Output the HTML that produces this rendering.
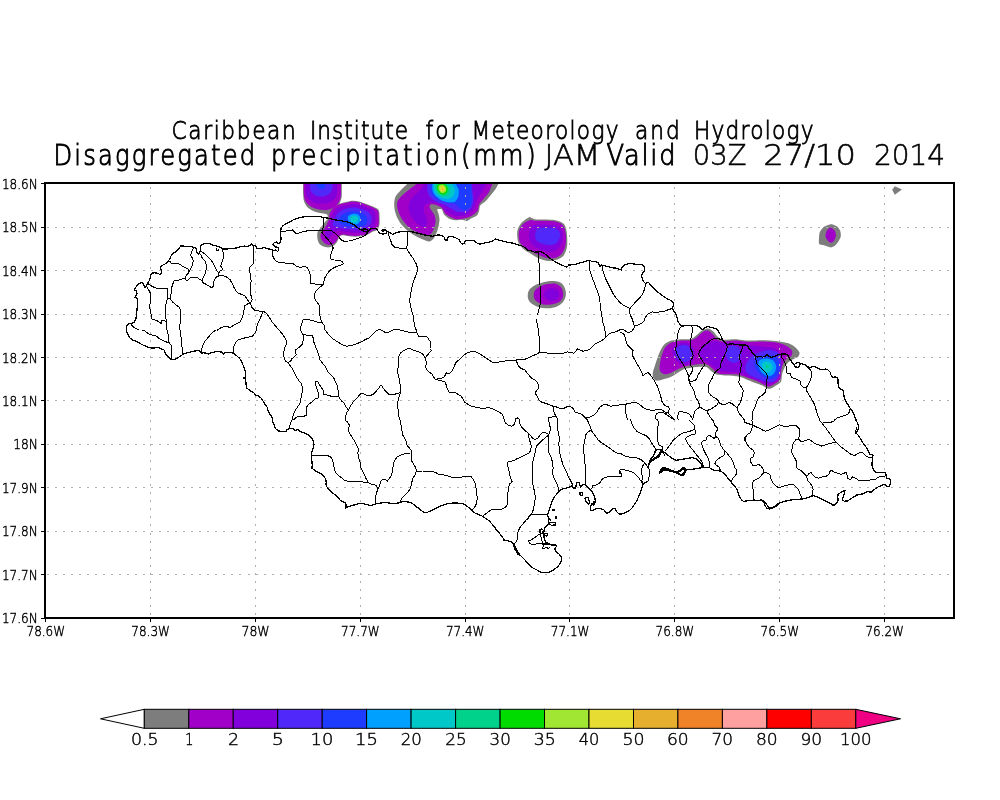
<!DOCTYPE html>
<html lang="en"><head><meta charset="utf-8"><title>Disaggregated precipitation JAM</title>
<style>html,body{margin:0;padding:0;background:#fff}body{width:1000px;height:800px;overflow:hidden}svg{display:block}text{font-family:"DejaVu Sans Light", "DejaVu Sans", "Liberation Sans", sans-serif;font-weight:200;fill:#000;stroke:#000;stroke-width:0.35px}.t1 text{font-size:25.5px;stroke-width:0.85px}.t2 text{font-size:29.2px;stroke-width:1px}.t2 text.u{stroke-width:0.55px}.ax text{font-size:14px;stroke-width:0.45px}.cb text{font-size:15px;stroke-width:0.4px}.map{fill:none;stroke:#000;stroke-width:1;stroke-linejoin:round;stroke-linecap:round}.coast{stroke-width:1.25}.grid{stroke:#b0b0b0;stroke-width:1;stroke-dasharray:2 6.04;fill:none}</style></head><body>
<svg width="1000" height="800" viewBox="0 0 1000 800">
<rect width="1000" height="800" fill="#fff"/>
<g id="shade" clip-path="url(#clipf)">
<path d="M303.2,150.0C296.8,153.3 303.2,165.2 303.2,170.0C303.2,174.8 303.2,174.8 303.2,179.0C303.2,183.2 302.9,191.0 303.2,195.0C303.4,199.0 303.8,200.8 304.7,203.0C305.6,205.2 307.0,206.8 308.7,208.3C310.4,209.8 312.8,211.0 315.0,211.8C317.2,212.6 320.0,212.9 322.0,213.3C324.0,213.8 325.8,213.7 327.0,214.5C328.2,215.3 327.3,218.2 329.0,218.0C330.7,217.8 335.3,215.2 337.0,213.0C338.7,210.8 338.2,207.5 339.0,205.0C339.8,202.5 341.0,200.5 341.5,198.0C342.0,195.5 341.8,193.2 341.8,190.0C341.9,186.8 341.8,182.3 341.8,179.0C341.8,175.7 341.8,174.8 341.8,170.0C341.8,165.2 348.2,153.3 341.8,150.0C335.4,146.7 309.6,146.7 303.2,150.0Z" fill="#7d7d7d"/>
<path d="M338.5,204.0C340.6,203.3 344.6,202.3 347.0,201.8C349.4,201.3 350.8,200.8 353.0,200.8C355.2,200.8 357.6,201.2 360.0,201.8C362.4,202.4 364.8,203.4 367.2,204.3C369.6,205.2 372.6,206.3 374.5,207.3C376.4,208.3 377.9,208.7 378.8,210.5C379.7,212.3 379.5,215.5 379.6,218.0C379.7,220.5 379.7,223.6 379.3,225.5C378.9,227.4 378.3,228.6 377.2,229.7C376.1,230.8 374.1,231.0 372.5,231.8C370.9,232.7 369.4,234.1 367.5,234.8C365.6,235.6 363.3,236.0 361.2,236.3C359.1,236.6 357.0,236.8 355.0,236.8C353.0,236.8 351.0,236.6 349.0,236.3C347.0,236.1 344.7,235.2 343.2,235.3C341.7,235.4 340.7,235.7 339.8,236.6C338.9,237.5 338.4,239.4 337.8,240.6C337.2,241.8 336.8,242.6 336.0,243.5C335.2,244.4 334.3,245.3 333.0,246.0C331.7,246.7 329.7,247.4 328.0,247.4C326.3,247.4 324.5,246.9 323.0,246.2C321.5,245.5 319.9,244.6 319.0,243.2C318.1,241.8 317.6,239.9 317.4,238.0C317.2,236.1 317.0,233.8 317.6,232.0C318.2,230.2 320.0,228.7 321.2,227.0C322.4,225.3 323.9,223.4 325.0,222.0C326.1,220.6 327.4,219.9 328.0,218.5C328.6,217.1 328.3,215.0 328.8,213.5C329.3,212.0 329.9,210.8 330.8,209.5C331.8,208.2 333.2,206.9 334.5,206.0C335.8,205.1 336.4,204.7 338.5,204.0Z" fill="#7d7d7d"/>
<path d="M303.8,150.0C297.6,153.3 303.8,165.2 303.8,170.0C303.8,174.8 303.8,175.0 303.8,179.0C303.8,183.0 303.5,190.3 303.8,194.0C304.1,197.7 304.5,199.0 305.5,201.0C306.5,203.0 308.1,204.7 310.0,206.0C311.9,207.3 314.5,208.3 317.0,209.0C319.5,209.7 322.7,210.0 325.0,210.0C327.3,210.0 329.0,209.8 331.0,209.0C333.0,208.2 335.4,206.8 337.0,205.0C338.6,203.2 339.8,200.5 340.5,198.0C341.2,195.5 340.9,193.2 341.0,190.0C341.1,186.8 341.0,182.3 341.0,179.0C341.0,175.7 341.0,174.8 341.0,170.0C341.0,165.2 347.2,153.3 341.0,150.0C334.8,146.7 310.0,146.7 303.8,150.0Z" fill="#a000c8"/>
<path d="M339.0,204.5C341.0,203.8 344.7,203.0 347.0,202.5C349.3,202.0 350.8,201.5 353.0,201.5C355.2,201.5 357.7,201.9 360.0,202.5C362.3,203.1 364.7,204.1 367.0,205.0C369.3,205.9 372.2,207.0 374.0,208.0C375.8,209.0 377.2,209.3 378.0,211.0C378.8,212.7 378.7,215.7 378.8,218.0C378.9,220.3 378.9,223.2 378.5,225.0C378.1,226.8 377.6,228.0 376.5,229.0C375.4,230.0 373.6,230.2 372.0,231.0C370.4,231.8 368.8,233.2 367.0,234.0C365.2,234.8 363.0,235.2 361.0,235.5C359.0,235.8 357.0,236.0 355.0,236.0C353.0,236.0 351.0,235.8 349.0,235.5C347.0,235.2 344.7,234.4 343.0,234.5C341.3,234.6 340.0,235.1 339.0,236.0C338.0,236.9 337.8,238.8 337.0,240.0C336.2,241.2 335.2,242.7 334.0,243.5C332.8,244.3 331.3,244.9 330.0,245.0C328.7,245.1 327.2,244.7 326.0,244.0C324.8,243.3 323.4,242.2 322.5,241.0C321.6,239.8 320.7,238.3 320.5,237.0C320.3,235.7 320.6,234.3 321.2,233.0C321.8,231.7 323.0,230.5 324.0,229.0C325.0,227.5 326.2,225.7 327.0,224.0C327.8,222.3 328.6,220.7 329.0,219.0C329.4,217.3 329.1,215.5 329.5,214.0C329.9,212.5 330.6,211.2 331.5,210.0C332.4,208.8 333.8,207.4 335.0,206.5C336.2,205.6 337.0,205.2 339.0,204.5Z" fill="#a000c8"/>
<path d="M305.5,150.0C300.2,153.3 305.5,165.2 305.5,170.0C305.5,174.8 305.4,175.2 305.5,179.0C305.6,182.8 305.5,189.8 306.0,193.0C306.5,196.2 307.2,196.9 308.5,198.5C309.8,200.1 311.9,201.7 314.0,202.5C316.1,203.3 318.5,203.5 321.0,203.5C323.5,203.5 326.8,203.2 329.0,202.5C331.2,201.8 333.2,200.6 334.5,199.0C335.8,197.4 336.5,196.3 337.0,193.0C337.5,189.7 337.4,182.8 337.5,179.0C337.6,175.2 337.5,174.8 337.5,170.0C337.5,165.2 342.8,153.3 337.5,150.0C332.2,146.7 310.8,146.7 305.5,150.0Z" fill="#8200dc"/>
<path d="M310.0,150.0C306.2,153.3 310.0,165.2 310.0,170.0C310.0,174.8 310.0,176.0 310.0,179.0C310.0,182.0 309.7,185.8 310.0,188.0C310.3,190.2 311.1,191.2 312.0,192.5C312.9,193.8 314.0,194.8 315.5,195.5C317.0,196.2 319.2,196.5 321.0,196.5C322.8,196.5 324.9,196.2 326.5,195.5C328.1,194.8 329.5,193.8 330.5,192.5C331.5,191.2 332.2,190.2 332.5,188.0C332.8,185.8 332.5,182.0 332.5,179.0C332.5,176.0 332.5,174.8 332.5,170.0C332.5,165.2 336.2,153.3 332.5,150.0C328.8,146.7 313.8,146.7 310.0,150.0Z" fill="#5028fa"/>
<path d="M316.5,150.0C315.1,153.3 316.5,165.2 316.5,170.0C316.5,174.8 316.5,176.5 316.5,179.0C316.5,181.5 316.3,183.5 316.5,185.0C316.7,186.5 317.2,187.1 317.8,187.8C318.4,188.5 319.2,188.8 320.0,189.0C320.8,189.2 321.8,189.2 322.5,189.0C323.2,188.8 324.1,188.5 324.5,187.8C324.9,187.1 325.1,186.5 325.2,185.0C325.3,183.5 325.2,181.5 325.2,179.0C325.2,176.5 325.2,174.8 325.2,170.0C325.2,165.2 326.6,153.3 325.2,150.0C323.8,146.7 317.9,146.7 316.5,150.0Z" fill="#1e3cff"/>
<path d="M340.0,207.0C341.8,206.3 344.7,205.5 347.0,205.0C349.3,204.5 351.7,204.0 354.0,204.0C356.3,204.0 358.7,204.3 361.0,205.0C363.3,205.7 365.8,207.0 368.0,208.0C370.2,209.0 372.8,209.5 374.0,211.0C375.2,212.5 375.3,214.8 375.5,217.0C375.7,219.2 375.6,222.2 375.0,224.0C374.4,225.8 373.5,226.8 372.0,228.0C370.5,229.2 368.2,230.2 366.0,231.0C363.8,231.8 361.5,232.2 359.0,232.5C356.5,232.8 353.5,232.7 351.0,232.5C348.5,232.3 346.2,231.8 344.0,231.5C341.8,231.2 339.7,230.4 338.0,230.5C336.3,230.6 335.2,231.1 334.0,232.0C332.8,232.9 332.0,234.9 331.0,236.0C330.0,237.1 329.0,238.3 328.0,238.5C327.0,238.7 325.5,237.9 325.0,237.0C324.5,236.1 324.5,234.5 325.0,233.0C325.5,231.5 327.2,229.7 328.0,228.0C328.8,226.3 329.4,224.8 330.0,223.0C330.6,221.2 330.8,218.8 331.5,217.0C332.2,215.2 333.2,213.3 334.0,212.0C334.8,210.7 335.5,209.8 336.5,209.0C337.5,208.2 338.2,207.7 340.0,207.0Z" fill="#8200dc"/>
<path d="M338.0,213.0C339.5,211.8 342.5,209.9 345.0,209.0C347.5,208.1 350.3,207.5 353.0,207.5C355.7,207.5 358.5,208.2 361.0,209.0C363.5,209.8 366.2,210.7 368.0,212.0C369.8,213.3 371.0,215.2 371.5,217.0C372.0,218.8 371.8,221.3 371.0,223.0C370.2,224.7 368.8,226.0 367.0,227.0C365.2,228.0 362.5,228.6 360.0,229.0C357.5,229.4 354.7,229.6 352.0,229.5C349.3,229.4 346.5,228.9 344.0,228.5C341.5,228.1 338.8,227.6 337.0,227.0C335.2,226.4 333.5,226.2 333.0,225.0C332.5,223.8 333.5,221.5 334.0,220.0C334.5,218.5 335.3,217.2 336.0,216.0C336.7,214.8 336.5,214.2 338.0,213.0Z" fill="#5028fa"/>
<path d="M342.0,215.0C343.6,214.0 346.7,212.6 349.0,212.0C351.3,211.4 353.7,211.2 356.0,211.5C358.3,211.8 361.2,212.4 363.0,213.5C364.8,214.6 366.4,216.4 367.0,218.0C367.6,219.6 367.2,221.7 366.5,223.0C365.8,224.3 364.8,225.3 363.0,226.0C361.2,226.7 358.3,226.9 356.0,227.0C353.7,227.1 351.2,226.8 349.0,226.5C346.8,226.2 344.7,225.8 343.0,225.0C341.3,224.2 339.6,223.2 339.0,222.0C338.4,220.8 339.0,219.2 339.5,218.0C340.0,216.8 340.4,216.0 342.0,215.0Z" fill="#1e3cff"/>
<path d="M348.0,216.5C348.7,215.6 350.5,214.4 352.0,214.0C353.5,213.6 355.7,213.5 357.0,214.0C358.3,214.5 359.5,215.8 360.0,217.0C360.5,218.2 360.4,219.8 360.0,221.0C359.6,222.2 358.7,223.4 357.5,224.0C356.3,224.6 354.3,224.8 353.0,224.5C351.7,224.2 350.3,223.3 349.5,222.5C348.7,221.7 348.2,220.5 348.0,219.5C347.8,218.5 347.3,217.4 348.0,216.5Z" fill="#00a0ff"/>
<path d="M350.2,217.8C350.5,216.8 352.1,216.0 353.2,215.7C354.2,215.4 355.7,215.6 356.5,216.1C357.3,216.6 358.1,217.7 358.2,218.6C358.3,219.5 358.0,220.8 357.4,221.5C356.8,222.2 355.5,222.8 354.5,222.8C353.5,222.8 352.2,222.3 351.5,221.5C350.8,220.7 349.9,218.8 350.2,217.8Z" fill="#00c8c8"/>
<path d="M409.2,145.0C397.1,147.9 409.3,162.3 409.2,167.0C409.2,171.7 409.2,177.9 408.9,180.2C408.6,182.5 408.1,182.7 407.1,184.1C406.0,185.4 402.5,188.4 401.0,190.1C399.5,191.8 396.4,194.9 395.5,196.7C394.6,198.5 394.3,201.4 394.2,203.3C394.1,205.2 394.5,208.9 394.9,211.0C395.4,213.1 396.7,216.8 397.7,218.7C398.7,220.6 400.8,223.7 402.1,225.3C403.4,226.9 406.0,229.5 407.6,230.8C409.2,232.1 412.3,234.1 414.2,235.2C416.1,236.3 419.9,238.2 421.9,239.1C423.9,239.9 427.4,241.7 429.1,241.6C430.7,241.4 432.9,239.4 434.0,237.9C435.1,236.5 436.6,232.6 437.3,230.8C438.0,229.0 438.7,225.8 438.9,224.2C439.2,222.6 439.6,220.2 439.5,218.7C439.4,217.2 438.7,214.4 438.4,213.2C438.1,212.0 436.9,209.9 437.3,209.3C437.7,208.8 440.8,208.7 441.7,209.3C442.6,210.0 443.0,213.1 443.9,214.3C444.8,215.5 446.8,217.3 448.3,218.2C449.8,219.0 453.1,220.1 454.9,220.3C456.7,220.6 459.9,219.7 461.5,219.8C463.1,219.9 465.7,221.1 467.0,220.9C468.3,220.7 470.1,218.9 471.4,218.2C472.7,217.4 475.9,216.4 476.9,215.4C477.9,214.4 478.7,212.3 479.1,211.0C479.5,209.7 479.3,206.8 480.2,205.5C481.1,204.2 484.2,202.6 485.7,201.1C487.2,199.6 489.9,196.1 491.2,194.5C492.5,192.9 494.6,190.4 495.6,189.0C496.6,187.6 497.8,185.2 498.4,184.1C498.9,182.9 499.7,182.5 500.0,180.2C500.3,177.9 500.5,171.7 500.6,167.0C500.6,162.3 512.7,147.9 500.6,145.0C488.4,142.1 421.4,142.1 409.2,145.0Z" fill="#7d7d7d"/>
<path d="M419.1,145.0C409.1,147.9 419.2,162.3 419.1,167.0C419.1,171.7 419.2,177.9 418.8,180.2C418.5,182.5 417.7,182.7 416.4,184.1C415.1,185.4 410.6,188.6 408.7,190.1C406.8,191.6 403.6,194.1 402.1,195.6C400.6,197.1 398.4,199.6 397.7,201.1C397.0,202.6 396.9,204.8 397.1,206.6C397.4,208.4 398.5,212.4 399.4,214.3C400.2,216.2 402.0,219.3 403.2,220.9C404.4,222.5 406.7,225.1 408.1,226.4C409.6,227.7 412.4,229.8 414.2,230.8C416.0,231.8 420.0,233.5 421.9,234.1C423.8,234.7 427.1,235.5 428.5,235.2C429.9,234.9 431.5,233.1 432.4,231.9C433.2,230.7 434.1,227.9 434.6,226.4C435.0,224.9 435.6,222.4 435.6,220.9C435.6,219.4 435.1,216.7 434.6,215.4C434.0,214.1 432.5,212.1 431.8,211.0C431.1,209.9 429.7,208.0 429.6,207.2C429.5,206.3 429.8,204.7 430.7,204.4C431.6,204.1 434.7,204.5 436.2,204.9C437.7,205.4 440.5,206.6 441.7,207.7C442.9,208.8 444.0,212.0 445.0,213.2C446.0,214.4 447.9,215.7 449.4,216.5C450.9,217.3 454.2,219.0 456.0,219.2C457.8,219.5 460.8,219.0 462.6,218.7C464.4,218.4 467.6,217.7 469.2,217.1C470.8,216.4 473.5,214.7 474.7,213.8C475.9,212.8 477.4,211.1 478.0,209.9C478.6,208.7 478.4,205.9 479.1,204.4C479.8,202.9 482.2,200.5 483.5,198.9C484.8,197.3 487.8,194.3 489.0,192.3C490.2,190.3 491.6,185.7 492.3,184.1C493.0,182.4 493.7,182.5 493.9,180.2C494.2,177.9 494.4,171.7 494.5,167.0C494.6,162.3 504.5,147.9 494.5,145.0C484.5,142.1 429.2,142.1 419.1,145.0Z" fill="#a000c8"/>
<path d="M425.2,145.0C416.9,147.9 425.2,162.3 425.2,167.0C425.2,171.7 425.2,177.9 425.0,180.2C424.8,182.5 424.0,183.0 423.6,184.1C423.1,185.1 422.9,186.7 421.9,187.9C420.9,189.1 417.8,191.9 416.4,193.4C415.0,194.9 412.5,197.4 411.4,198.9C410.4,200.4 409.0,202.9 408.7,204.4C408.4,205.9 408.6,208.8 408.9,210.4C409.3,212.1 410.6,215.0 411.4,216.5C412.3,218.0 414.1,220.8 415.3,222.0C416.5,223.2 419.0,225.2 420.2,225.8C421.5,226.5 423.8,227.2 424.6,226.9C425.5,226.7 426.5,225.1 426.9,224.2C427.2,223.3 427.4,221.5 427.2,220.3C427.0,219.2 425.9,216.8 425.4,215.4C424.9,214.0 423.6,211.4 423.6,209.9C423.5,208.4 424.0,205.4 425.2,204.4C426.4,203.4 431.1,202.8 432.9,202.8C434.7,202.7 437.1,203.2 438.4,203.8C439.7,204.5 441.6,206.6 442.8,207.7C444.0,208.8 445.7,211.1 447.2,212.1C448.7,213.1 451.9,214.9 453.8,215.4C455.7,215.9 459.6,216.1 461.5,215.9C463.4,215.8 466.5,215.3 468.1,214.3C469.7,213.3 472.4,210.7 473.6,208.8C474.8,206.9 475.7,202.3 476.9,200.0C478.1,197.7 481.2,193.3 482.4,191.2C483.6,189.1 485.1,185.5 485.7,184.1C486.3,182.6 486.6,182.5 486.8,180.2C487.0,177.9 487.3,171.7 487.4,167.0C487.4,162.3 495.6,147.9 487.4,145.0C479.1,142.1 433.5,142.1 425.2,145.0Z" fill="#8200dc"/>
<path d="M427.4,145.0C421.5,147.9 427.4,162.7 427.4,167.0C427.4,171.3 427.4,173.7 427.4,176.9C427.4,180.1 427.0,188.4 427.4,191.2C427.8,194.0 429.4,196.3 430.7,197.8C432.0,199.3 435.4,201.2 437.3,202.2C439.2,203.2 443.1,204.1 445.0,204.9C446.9,205.8 449.8,207.8 451.6,208.8C453.4,209.8 456.3,211.7 458.2,212.1C460.1,212.5 464.1,212.7 465.9,212.1C467.7,211.5 470.4,209.3 471.4,207.7C472.4,206.1 473.5,202.1 473.6,200.0C473.7,197.9 472.7,195.4 472.5,192.3C472.3,189.2 472.0,180.3 471.9,176.9C471.9,173.5 471.9,171.3 471.9,167.0C471.9,162.7 477.9,147.9 471.9,145.0C466.0,142.1 433.3,142.1 427.4,145.0Z" fill="#5028fa"/>
<path d="M430.1,145.0C424.7,147.9 430.1,162.7 430.1,167.0C430.1,171.3 430.1,173.7 430.1,176.9C430.2,180.1 430.2,188.6 430.7,191.2C431.2,193.8 432.8,195.5 434.0,196.7C435.2,197.9 437.7,199.7 439.5,200.6C441.3,201.4 445.1,202.3 447.2,202.8C449.3,203.2 453.3,203.2 454.9,203.8C456.5,204.5 458.0,206.9 459.3,207.7C460.6,208.5 463.3,210.0 464.8,209.9C466.3,209.8 469.3,208.1 470.3,206.6C471.3,205.1 471.8,201.1 471.9,198.9C472.1,196.7 471.5,193.0 471.4,190.1C471.3,187.2 470.9,180.0 470.9,176.9C470.8,173.8 470.9,171.3 470.9,167.0C470.9,162.7 476.3,147.9 470.9,145.0C465.4,142.1 435.6,142.1 430.1,145.0Z" fill="#1e3cff"/>
<path d="M432.4,145.0C429.3,147.9 432.4,162.7 432.4,167.0C432.4,171.3 432.4,173.8 432.4,176.9C432.4,180.0 432.0,187.6 432.4,190.1C432.7,192.6 434.0,194.3 435.1,195.6C436.2,196.9 438.8,199.1 440.6,200.0C442.4,200.9 446.4,202.0 448.3,202.2C450.2,202.4 453.6,202.4 454.9,201.7C456.2,200.9 457.7,198.2 458.2,196.7C458.7,195.2 459.0,191.8 458.8,190.1C458.5,188.4 456.5,185.8 456.0,184.1C455.5,182.3 455.0,179.2 454.9,176.9C454.8,174.6 454.9,171.3 454.9,167.0C454.9,162.7 457.9,147.9 454.9,145.0C451.9,142.1 435.4,142.1 432.4,145.0Z" fill="#00a0ff"/>
<path d="M434.0,145.0C431.8,147.9 434.0,162.7 434.0,167.0C434.0,171.3 434.0,174.0 434.0,176.9C434.0,179.8 433.6,186.7 434.0,189.0C434.4,191.3 435.7,193.3 436.8,194.5C437.8,195.7 440.3,197.2 441.7,197.8C443.1,198.4 445.7,199.0 447.2,198.9C448.7,198.8 451.7,197.7 452.7,196.7C453.7,195.7 454.8,192.7 454.9,191.2C455.0,189.7 453.7,186.7 453.2,185.7C452.8,184.7 452.0,185.2 451.6,184.1C451.2,182.9 450.6,179.2 450.5,176.9C450.4,174.6 450.5,171.3 450.5,167.0C450.5,162.7 452.7,147.9 450.5,145.0C448.3,142.1 436.2,142.1 434.0,145.0Z" fill="#00c8c8"/>
<path d="M435.6,184.6C434.6,185.6 435.2,187.4 435.6,189.0C436.1,190.6 437.2,192.8 438.4,193.9C439.6,195.1 441.3,195.9 442.8,196.2C444.3,196.4 446.0,196.2 447.2,195.6C448.4,195.0 449.5,193.6 449.9,192.3C450.4,191.0 450.4,189.2 449.9,187.9C449.5,186.6 448.6,185.4 447.2,184.6C445.8,183.8 443.6,182.9 441.7,182.9C439.8,182.9 436.7,183.6 435.6,184.6Z" fill="#00d28c"/>
<path d="M437.3,185.2C436.7,186.0 436.9,187.7 437.3,189.0C437.7,190.3 438.6,191.9 439.5,192.8C440.4,193.8 441.7,194.4 442.8,194.5C443.9,194.6 445.3,194.1 446.1,193.4C446.9,192.7 447.6,191.2 447.8,190.1C447.9,189.0 447.7,187.7 447.2,186.8C446.7,185.9 446.0,185.1 445.0,184.6C444.0,184.1 442.4,183.6 441.1,183.7C439.9,183.8 437.9,184.3 437.3,185.2Z" fill="#00dc00"/>
<path d="M438.4,186.2C438.1,187.1 438.5,189.0 438.9,190.1C439.4,191.2 440.3,192.4 441.1,192.8C442.0,193.3 443.1,193.2 443.9,192.8C444.7,192.5 445.8,191.6 446.1,190.7C446.4,189.7 446.3,188.3 445.9,187.3C445.4,186.4 444.2,185.2 443.4,184.8C442.5,184.4 441.4,184.6 440.6,184.8C439.8,185.1 438.7,185.4 438.4,186.2Z" fill="#a0e632"/>
<path d="M440.1,187.7C439.8,188.3 440.1,189.5 440.4,190.1C440.7,190.7 441.3,191.4 441.9,191.5C442.5,191.7 443.4,191.4 443.9,191.0C444.4,190.6 444.8,189.7 444.8,189.0C444.8,188.3 444.4,187.3 443.9,186.8C443.4,186.3 442.6,186.0 441.9,186.1C441.3,186.3 440.3,187.0 440.1,187.7Z" fill="#e6dc32"/>
<path d="M441.7,188.7C441.6,189.0 441.8,189.7 442.0,189.9C442.3,190.1 442.9,190.0 443.1,189.8C443.4,189.6 443.4,189.0 443.4,188.7C443.3,188.4 442.9,188.0 442.6,188.0C442.3,188.0 441.8,188.4 441.7,188.7Z" fill="#e6af2d"/>
<path d="M529.2,217.2C527.8,217.9 524.4,219.9 522.5,221.8C520.6,223.6 518.9,226.1 518.0,228.5C517.1,230.9 517.1,233.5 517.2,236.0C517.4,238.5 517.6,241.2 518.8,243.5C519.9,245.8 522.1,247.9 524.0,249.5C525.9,251.1 527.8,251.9 530.0,253.2C532.2,254.6 534.8,256.5 537.5,257.8C540.2,259.0 543.5,260.4 546.5,260.8C549.5,261.1 552.8,260.8 555.5,260.0C558.2,259.2 561.1,258.2 563.0,256.2C564.9,254.2 566.0,251.1 566.8,248.0C567.5,244.9 567.3,240.8 567.2,237.5C567.1,234.2 566.7,230.9 566.0,228.5C565.3,226.1 564.8,224.6 563.0,223.2C561.2,221.9 558.5,220.9 555.5,220.2C552.5,219.6 548.2,219.6 545.0,219.5C541.8,219.4 538.2,219.8 536.0,219.5C533.8,219.2 532.6,218.4 531.5,218.0C530.4,217.6 530.8,216.6 529.2,217.2Z" fill="#7d7d7d"/>
<path d="M530.0,220.2C528.2,220.7 525.8,221.8 524.0,223.2C522.2,224.8 520.4,227.1 519.5,229.2C518.6,231.4 518.6,233.8 518.8,236.0C518.9,238.2 519.1,240.8 520.2,242.8C521.4,244.8 523.5,246.5 525.5,248.0C527.5,249.5 529.9,250.5 532.2,251.8C534.6,253.0 537.1,254.4 539.8,255.5C542.4,256.6 545.4,257.8 548.0,258.2C550.6,258.6 553.2,258.4 555.5,257.8C557.8,257.1 559.9,255.9 561.5,254.0C563.1,252.1 564.5,249.2 565.2,246.5C566.0,243.8 566.1,240.4 566.0,237.5C565.9,234.6 565.5,231.5 564.8,229.2C564.0,227.0 563.3,225.3 561.5,224.0C559.7,222.7 557.0,221.9 554.0,221.3C551.0,220.8 546.8,220.8 543.5,220.7C540.2,220.6 536.8,220.8 534.5,220.7C532.2,220.6 531.8,219.8 530.0,220.2Z" fill="#a000c8"/>
<path d="M532.2,226.2C531.0,227.4 529.8,229.4 529.2,231.5C528.8,233.6 528.6,236.8 529.2,239.0C529.9,241.2 531.1,243.2 533.0,245.0C534.9,246.8 537.8,248.4 540.5,249.5C543.2,250.6 546.8,251.8 549.5,251.8C552.2,251.8 555.0,250.9 557.0,249.5C559.0,248.1 560.5,245.9 561.5,243.5C562.5,241.1 562.8,237.8 562.7,235.2C562.6,232.8 562.0,230.1 560.8,228.5C559.5,226.9 558.1,226.1 555.5,225.5C552.9,224.9 548.1,224.9 545.0,224.8C541.9,224.6 538.9,224.5 536.8,224.8C534.6,225.0 533.5,225.1 532.2,226.2Z" fill="#8200dc"/>
<path d="M537.5,229.2C535.9,230.2 535.5,232.0 535.2,233.8C535.0,235.5 535.0,238.1 536.0,239.8C537.0,241.4 539.0,242.6 541.2,243.5C543.5,244.4 547.0,245.0 549.5,245.0C552.0,245.0 554.5,244.8 556.2,243.5C558.0,242.2 559.2,239.5 559.7,237.5C560.2,235.5 560.1,233.0 559.2,231.5C558.4,230.0 557.1,229.1 554.8,228.5C552.4,227.9 547.9,227.6 545.0,227.8C542.1,227.9 539.1,228.2 537.5,229.2Z" fill="#5028fa"/>
<path d="M527.8,294.5C527.9,293.0 528.1,291.5 529.2,290.0C530.4,288.5 532.1,286.8 534.5,285.5C536.9,284.2 540.2,282.9 543.5,282.2C546.8,281.4 551.0,280.8 554.0,281.0C557.0,281.2 559.6,281.9 561.5,283.2C563.4,284.6 564.5,287.1 565.2,289.2C566.0,291.4 566.1,293.9 565.7,296.0C565.3,298.1 564.5,300.2 563.0,302.0C561.5,303.8 559.5,305.4 557.0,306.5C554.5,307.6 551.0,308.2 548.0,308.3C545.0,308.4 541.8,308.1 539.0,307.2C536.2,306.4 533.3,304.9 531.5,303.5C529.7,302.1 528.8,300.5 528.2,299.0C527.6,297.5 527.6,296.0 527.8,294.5Z" fill="#7d7d7d"/>
<path d="M533.8,294.5C533.9,293.1 534.1,291.4 535.2,290.0C536.4,288.6 538.4,287.2 540.5,286.2C542.6,285.2 545.5,284.4 548.0,284.0C550.5,283.6 553.4,283.2 555.5,283.7C557.6,284.2 559.5,285.6 560.8,287.0C562.0,288.4 562.7,290.5 563.0,292.2C563.3,294.0 563.3,295.9 562.7,297.5C562.1,299.1 561.0,300.9 559.2,302.0C557.5,303.1 555.0,303.8 552.5,304.2C550.0,304.7 546.8,305.1 544.2,304.7C541.8,304.3 539.2,303.1 537.5,302.0C535.8,300.9 534.8,299.5 534.2,298.2C533.6,297.0 533.6,295.9 533.8,294.5Z" fill="#a000c8"/>
<path d="M544.2,293.0C544.8,291.6 546.4,290.0 548.0,289.2C549.6,288.5 552.2,288.1 554.0,288.5C555.8,288.9 557.7,290.1 558.5,291.5C559.3,292.9 559.4,295.3 558.8,296.8C558.2,298.2 556.4,299.6 554.8,300.2C553.1,300.8 550.4,300.9 548.8,300.5C547.1,300.1 545.8,298.8 545.0,297.5C544.2,296.2 543.8,294.4 544.2,293.0Z" fill="#8200dc"/>
<path d="M831.8,224.2C832.7,224.4 836.4,225.9 837.2,226.6C838.0,227.3 839.8,229.8 840.2,230.8C840.6,231.8 841.0,235.1 840.8,236.2C840.6,237.3 839.0,240.6 838.4,241.6C837.8,242.6 835.6,245.2 834.8,245.8C834.0,246.4 831.7,247.4 830.6,247.4C829.5,247.3 825.1,245.5 824.0,245.2C822.9,244.9 819.7,244.7 819.2,244.0C818.7,243.3 818.9,239.2 819.0,238.0C819.0,236.8 819.4,233.1 819.8,232.0C820.2,230.9 822.6,227.9 823.4,227.2C824.2,226.5 827.4,225.3 828.2,225.0C829.0,224.7 830.9,224.0 831.8,224.2Z" fill="#7d7d7d"/>
<path d="M831.2,227.8C831.8,228.0 834.3,230.0 834.8,230.8C835.3,231.6 836.1,234.6 836.0,235.6C835.9,236.6 834.7,239.7 834.2,240.4C833.7,241.1 831.9,242.8 831.2,242.8C830.5,242.8 828.2,241.1 827.6,240.4C827.0,239.7 825.6,237.1 825.4,236.2C825.3,235.3 826.1,232.2 826.4,231.4C826.7,230.6 828.3,228.8 828.8,228.4C829.3,228.0 830.6,227.6 831.2,227.8Z" fill="#a000c8"/>
<path d="M894.8,186.2 L902.0,189.6 L894.8,194.8 L892.2,189.8Z" fill="#7d7d7d"/>
<path d="M652.8,372.9C653.0,371.1 654.4,367.1 655.3,364.4C656.2,361.7 658.4,355.1 659.5,352.5C660.7,349.9 662.2,346.4 663.8,344.9C665.4,343.3 669.2,341.3 671.5,340.6C673.7,339.9 678.2,339.5 680.8,339.2C683.4,339.0 689.0,339.4 691.0,338.9C693.0,338.4 694.6,336.6 696.1,335.5C697.6,334.4 700.5,331.4 702.0,330.4C703.6,329.4 706.5,328.2 708.0,328.4C709.5,328.5 711.9,330.2 713.1,331.2C714.3,332.3 716.0,335.2 717.4,336.4C718.7,337.5 720.9,339.4 723.3,339.8C725.7,340.1 731.8,339.1 735.2,339.2C738.6,339.4 745.2,340.5 748.8,340.6C752.4,340.7 758.8,340.2 762.4,340.3C766.0,340.3 772.6,340.6 776.0,340.9C779.4,341.3 785.3,342.3 787.9,343.1C790.5,344.0 794.0,346.2 795.5,347.4C797.1,348.6 799.1,351.3 799.5,352.5C799.8,353.7 799.0,355.8 798.1,356.8C797.2,357.7 794.4,358.5 793.0,359.3C791.6,360.1 789.0,361.6 787.9,362.7C786.8,363.8 785.3,366.2 784.5,367.8C783.7,369.4 782.4,372.8 782.0,374.6C781.5,376.4 781.9,379.9 781.1,381.4C780.3,382.9 777.6,384.6 776.0,385.6C774.4,386.7 771.0,389.1 769.2,389.1C767.4,389.1 764.2,386.4 762.4,385.6C760.6,384.9 757.9,384.0 755.6,383.1C753.3,382.2 747.9,379.8 745.4,378.9C742.9,377.9 739.6,376.8 736.9,376.3C734.2,375.8 727.7,375.7 725.0,375.4C722.3,375.2 718.3,375.2 716.5,374.6C714.7,374.0 712.8,372.2 711.4,371.2C710.0,370.2 708.3,367.5 706.3,366.9C704.3,366.4 698.8,366.7 696.1,366.9C693.4,367.2 688.4,367.9 685.9,368.6C683.4,369.4 679.4,371.8 677.4,372.9C675.4,374.0 672.6,376.2 670.6,377.1C668.6,378.1 664.0,379.2 662.1,379.7C660.2,380.2 657.3,380.8 656.1,380.6C655.0,380.3 653.7,379.0 653.3,378.0C652.8,377.0 652.5,374.7 652.8,372.9Z" fill="#7d7d7d"/>
<path d="M659.5,367.8C659.6,365.9 660.6,360.2 661.2,357.6C661.9,355.0 663.4,350.2 664.6,348.2C665.9,346.3 668.4,344.2 670.6,343.1C672.8,342.1 678.1,341.0 680.8,340.6C683.5,340.2 688.8,340.7 691.0,340.3C693.2,339.8 695.4,338.3 697.0,337.2C698.5,336.1 701.4,333.0 702.9,332.1C704.4,331.2 706.8,330.2 708.0,330.4C709.2,330.6 711.1,332.7 712.2,333.8C713.4,334.9 715.0,337.9 716.5,338.9C718.0,339.9 720.8,341.2 723.3,341.4C725.8,341.7 731.8,340.5 735.2,340.6C738.6,340.7 745.2,341.8 748.8,342.0C752.4,342.1 758.8,341.5 762.4,341.6C766.0,341.7 772.8,342.1 776.0,342.6C779.2,343.2 784.0,344.6 786.2,345.7C788.4,346.8 791.5,349.4 792.1,350.8C792.8,352.2 792.1,354.8 791.3,355.9C790.5,357.0 787.3,358.2 786.2,359.3C785.1,360.4 783.5,362.8 782.8,364.4C782.1,366.0 781.4,369.3 781.1,371.2C780.8,373.1 780.9,377.3 780.2,378.9C779.6,380.4 777.5,382.1 776.0,383.1C774.5,384.1 771.0,386.4 769.2,386.5C767.4,386.6 764.2,384.7 762.4,383.9C760.6,383.2 757.9,381.5 755.6,380.6C753.3,379.6 747.9,378.0 745.4,377.1C742.9,376.3 739.6,374.6 736.9,374.3C734.2,373.9 727.6,374.4 725.0,374.3C722.4,374.1 719.1,373.6 717.4,372.9C715.6,372.2 713.6,369.8 712.2,368.6C710.9,367.5 709.3,365.0 707.1,364.4C705.0,363.8 698.9,364.2 696.1,364.4C693.3,364.6 688.4,365.4 685.9,366.1C683.4,366.8 679.4,368.6 677.4,369.5C675.4,370.4 672.3,372.3 670.6,372.9C668.9,373.5 666.0,374.4 664.6,374.3C663.3,374.1 661.4,372.9 660.7,372.1C660.1,371.2 659.5,369.7 659.5,367.8Z" fill="#a000c8"/>
<path d="M674.0,346.6C675.4,345.1 678.2,343.6 680.8,343.1C683.3,342.7 687.0,342.7 689.3,344.0C691.6,345.3 693.7,348.2 694.4,350.8C695.1,353.4 694.5,357.0 693.5,359.3C692.6,361.6 690.7,363.7 688.5,364.4C686.2,365.1 682.4,364.7 680.0,363.6C677.5,362.4 675.3,359.6 674.0,357.6C672.7,355.6 672.3,353.5 672.3,351.6C672.3,349.8 672.6,348.0 674.0,346.6Z" fill="#8200dc"/>
<path d="M699.5,352.5C699.9,350.2 702.3,347.5 704.6,345.7C706.9,343.9 709.7,341.9 713.1,341.4C716.5,341.0 721.3,342.9 725.0,343.1C728.7,343.4 731.2,342.9 735.2,343.1C739.2,343.4 744.3,344.3 748.8,344.9C753.3,345.4 757.9,345.8 762.4,346.6C766.9,347.3 772.9,347.3 776.0,349.1C779.1,350.9 780.4,354.2 781.1,357.6C781.8,361.0 780.7,366.1 780.2,369.5C779.8,372.9 779.5,375.9 778.5,378.0C777.6,380.1 776.1,381.3 774.3,382.2C772.5,383.2 770.0,384.2 767.5,383.9C765.0,383.7 762.1,381.7 759.0,380.6C755.9,379.4 751.9,378.4 748.8,377.1C745.7,375.9 743.1,373.8 740.3,372.9C737.5,372.0 734.9,372.3 731.8,372.1C728.7,371.8 724.4,371.9 721.6,371.2C718.8,370.5 717.1,369.2 714.8,367.8C712.5,366.4 710.1,364.1 708.0,362.7C705.9,361.3 703.5,361.0 702.0,359.3C700.6,357.6 699.1,354.8 699.5,352.5Z" fill="#8200dc"/>
<path d="M676.5,348.2C677.7,346.6 680.5,345.1 682.5,344.9C684.5,344.6 686.9,345.3 688.5,346.6C690.0,347.8 691.6,350.4 691.9,352.5C692.1,354.6 691.3,357.7 690.1,359.3C689.0,360.9 686.9,361.7 685.0,361.9C683.2,362.0 680.7,361.3 679.1,360.1C677.5,359.0 676.1,357.0 675.7,355.1C675.3,353.1 675.4,349.9 676.5,348.2Z" fill="#5028fa"/>
<path d="M727.5,348.2C728.7,347.0 730.8,345.8 732.6,345.7C734.5,345.6 737.2,346.0 738.6,347.4C740.0,348.8 741.1,351.9 741.1,354.2C741.1,356.5 740.0,359.6 738.6,361.0C737.2,362.4 734.5,363.0 732.6,362.7C730.8,362.4 728.7,360.9 727.5,359.3C726.4,357.7 725.9,355.2 725.9,353.4C725.9,351.5 726.4,349.5 727.5,348.2Z" fill="#5028fa"/>
<path d="M745.4,366.1C746.0,363.6 748.2,359.9 750.5,357.6C752.8,355.3 755.9,353.8 759.0,352.5C762.1,351.2 766.1,349.9 769.2,349.9C772.3,349.9 775.7,350.7 777.7,352.5C779.7,354.3 780.7,357.9 781.1,361.0C781.5,364.1 781.0,368.2 780.2,371.2C779.5,374.2 778.4,377.0 776.9,378.9C775.3,380.7 773.3,382.0 770.9,382.2C768.5,382.5 765.2,381.4 762.4,380.6C759.6,379.7 756.4,378.4 753.9,377.1C751.4,375.9 748.5,374.7 747.1,372.9C745.7,371.1 744.8,368.7 745.4,366.1Z" fill="#5028fa"/>
<path d="M755.6,359.3C756.9,357.6 759.9,356.6 762.4,355.9C764.9,355.2 768.3,354.5 770.9,355.1C773.5,355.6 776.3,357.2 777.7,359.3C779.1,361.4 779.5,365.1 779.4,367.8C779.3,370.5 778.3,373.6 776.9,375.4C775.4,377.3 773.0,378.6 770.9,378.9C768.8,379.1 766.2,378.3 764.1,377.1C762.0,376.0 759.7,373.9 758.1,372.1C756.6,370.2 755.2,368.2 754.8,366.1C754.3,364.0 754.3,361.0 755.6,359.3Z" fill="#1e3cff"/>
<path d="M759.0,361.0C760.1,359.4 763.5,358.6 765.8,358.4C768.1,358.3 770.9,358.9 772.6,360.1C774.3,361.4 775.7,364.0 776.0,366.1C776.3,368.2 775.4,371.2 774.3,372.9C773.2,374.6 771.0,376.2 769.2,376.3C767.4,376.4 765.0,375.2 763.2,373.8C761.5,372.3 759.7,369.9 759.0,367.8C758.3,365.7 757.9,362.6 759.0,361.0Z" fill="#00a0ff"/>
<path d="M762.4,363.4C763.0,362.1 765.3,361.5 766.8,361.5C768.3,361.5 770.3,362.3 771.2,363.4C772.2,364.4 772.7,366.5 772.6,367.8C772.5,369.1 771.4,370.6 770.4,371.4C769.4,372.1 767.9,372.8 766.6,372.4C765.4,372.0 763.8,370.7 763.1,369.2C762.4,367.7 761.8,364.7 762.4,363.4Z" fill="#00c8c8"/>
<path d="M765.8,365.8C766.0,365.3 767.0,364.9 767.5,364.9C768.0,365.0 768.6,365.6 768.9,366.1C769.1,366.6 769.1,367.4 768.9,367.8C768.6,368.2 768.0,368.7 767.5,368.6C767.0,368.6 766.4,368.1 766.1,367.6C765.9,367.1 765.6,366.2 765.8,365.8Z" fill="#00d28c"/>
</g>
<defs><clipPath id="clipf"><rect x="45.0" y="183.0" width="909.0" height="435.0"/></clipPath></defs>
<g class="grid" shape-rendering="crispEdges">
<line x1="150.5" y1="183.0" x2="150.5" y2="618.0" stroke-dashoffset="-3.8"/>
<line x1="255.5" y1="183.0" x2="255.5" y2="618.0" stroke-dashoffset="-3.8"/>
<line x1="360.5" y1="183.0" x2="360.5" y2="618.0" stroke-dashoffset="-3.8"/>
<line x1="465.5" y1="183.0" x2="465.5" y2="618.0" stroke-dashoffset="-3.8"/>
<line x1="569.5" y1="183.0" x2="569.5" y2="618.0" stroke-dashoffset="-3.8"/>
<line x1="674.5" y1="183.0" x2="674.5" y2="618.0" stroke-dashoffset="-3.8"/>
<line x1="779.5" y1="183.0" x2="779.5" y2="618.0" stroke-dashoffset="-3.8"/>
<line x1="884.5" y1="183.0" x2="884.5" y2="618.0" stroke-dashoffset="-3.8"/>
<line x1="45.0" y1="227.5" x2="954.0" y2="227.5" stroke-dashoffset="-1.5"/>
<line x1="45.0" y1="270.5" x2="954.0" y2="270.5" stroke-dashoffset="-1.5"/>
<line x1="45.0" y1="314.5" x2="954.0" y2="314.5" stroke-dashoffset="-1.5"/>
<line x1="45.0" y1="357.5" x2="954.0" y2="357.5" stroke-dashoffset="-1.5"/>
<line x1="45.0" y1="400.5" x2="954.0" y2="400.5" stroke-dashoffset="-1.5"/>
<line x1="45.0" y1="444.5" x2="954.0" y2="444.5" stroke-dashoffset="-1.5"/>
<line x1="45.0" y1="487.5" x2="954.0" y2="487.5" stroke-dashoffset="-1.5"/>
<line x1="45.0" y1="531.5" x2="954.0" y2="531.5" stroke-dashoffset="-1.5"/>
<line x1="45.0" y1="574.5" x2="954.0" y2="574.5" stroke-dashoffset="-1.5"/>
</g>
<g class="map" clip-path="url(#clipf)" shape-rendering="crispEdges">
<polyline points="216.5,248.5 216.5,251.0 218.0,250.8 218.0,248.5"/>
<polyline points="222.8,249.0 223.1,252.5 223.6,256.2 222.8,260.0 221.5,263.1 220.8,266.2 222.0,267.5 222.2,269.8 219.8,271.0 219.0,273.1 218.8,276.0"/>
<polyline points="200.8,250.6 203.1,252.8 206.2,255.0 209.0,257.8 211.5,260.6 213.2,263.5 214.8,266.9 216.5,270.0 218.5,273.1 218.8,276.0"/>
<polyline points="200.0,253.8 201.2,255.6 202.5,258.5 205.0,261.2 206.2,265.0 206.1,270.0 204.8,274.4 203.0,277.8 202.1,281.0 203.5,283.1 206.5,284.5 209.5,286.5 212.0,287.8 213.2,286.2 213.6,282.5 214.5,279.4 216.5,276.9 218.8,276.0 222.8,275.6 226.5,277.0 230.0,279.5 232.0,283.2 233.8,287.0 235.8,290.8 238.2,293.2 242.0,294.5 245.0,296.0"/>
<polyline points="193.8,247.2 192.5,250.0 191.2,252.5 190.8,255.6 192.5,258.1 193.2,261.2 192.5,265.0 191.2,267.8 189.5,270.6 188.2,273.1 186.2,275.6 185.0,278.1 186.2,280.2 188.1,280.0 190.0,277.8 193.8,277.2 197.5,277.8 200.0,279.5 202.1,281.0"/>
<polyline points="185.0,278.1 182.5,278.8 178.8,280.0 175.0,280.0 173.8,281.2 172.5,285.0 171.2,288.8 171.2,292.5 170.8,296.2 170.0,298.1 171.2,300.0 173.1,302.5 176.2,305.0 179.4,307.5 180.6,311.2 180.6,317.5 180.0,323.8 179.4,330.0"/>
<polyline points="147.8,282.8 149.0,284.4 151.2,285.8 154.4,287.5 157.5,288.8 162.5,288.5 167.0,288.5 167.6,291.2 167.6,295.0 167.6,298.8 170.0,298.1"/>
<polyline points="167.6,298.8 166.2,302.5 165.6,307.5 165.6,315.0 166.2,321.2 167.0,330.0"/>
<polyline points="169.8,261.2 170.6,262.8 172.5,263.8 175.6,264.0 178.1,263.5 180.0,264.5 182.5,266.2 185.0,267.5 188.1,268.8 189.0,270.6"/>
<polyline points="146.5,285.6 147.5,288.1 149.4,291.2 150.6,293.8 150.6,298.8 150.0,303.8 149.4,307.5 150.6,311.2 151.2,315.0 151.0,318.8 153.8,319.4 156.9,320.6 160.0,322.5 161.2,323.8 161.9,321.9 161.2,320.0 163.8,320.6 166.2,321.2"/>
<polyline points="130.6,323.8 132.5,326.2 136.2,328.8 138.8,330.0"/>
<polyline points="245.0,306.2 243.8,311.2 242.5,317.5 240.0,321.9 235.0,324.4 230.0,327.5 226.2,326.2 221.2,327.5 217.5,330.0"/>
<polyline points="273.1,250.6 272.5,253.1 272.8,256.2 274.4,259.4 276.9,261.9 281.2,262.5 286.2,263.1 290.0,263.5 293.1,263.8 295.0,265.0 297.5,266.9 301.2,267.2 305.0,266.5 307.5,267.5 308.8,270.6 310.0,273.8 310.6,278.8 310.6,283.5 315.0,284.0 320.0,284.4 323.5,284.4"/>
<polyline points="323.5,284.4 324.0,281.2 325.0,277.5 326.9,274.4 328.8,271.9 331.2,269.4 334.4,267.5 337.5,266.2 341.2,265.0 343.8,263.8 341.9,261.2 338.8,260.2 334.4,260.0 331.2,259.4 330.6,256.9 331.2,253.1 332.5,250.0 333.1,247.5"/>
<polyline points="323.5,284.4 321.2,286.2 318.1,288.8 315.6,291.2 314.4,294.4 314.4,298.1 316.2,301.2 318.8,304.4 319.8,307.5 319.4,311.9 320.0,316.2 321.2,320.6 322.5,323.1 324.4,325.6 325.0,330.0"/>
<polyline points="322.5,323.1 318.8,322.5 315.0,321.2 310.0,320.0 305.0,319.4 303.1,320.0 301.9,323.8 300.6,327.5 300.0,330.0"/>
<polyline points="251.9,244.0 253.1,246.2 253.8,250.0 253.8,255.0 253.5,260.0 253.1,263.8 251.2,265.6 249.8,267.5 249.8,271.2 250.6,276.2 251.2,281.2 250.2,286.2 250.0,291.2 251.2,296.2 252.2,300.0 250.6,302.5 249.8,303.1 250.6,304.4 251.9,307.5 254.4,310.0 258.8,311.0 263.1,311.0"/>
<polyline points="263.1,311.0 261.2,316.2 258.8,321.2 256.9,326.2 256.0,330.0"/>
<polyline points="263.1,311.0 266.2,313.1 269.4,317.5 272.5,322.5 276.2,326.9 278.8,330.0"/>
<polyline points="245.0,296.0 246.9,298.8 248.8,301.9 249.8,303.1"/>
<polyline points="245.0,305.6 247.5,304.0 249.8,303.1"/>
<polyline points="280.4,231.9 282.5,231.5 286.2,231.0 290.0,230.6 292.2,229.8 293.8,231.2 296.2,234.0 298.8,233.1 303.8,231.5 308.8,230.6 313.8,230.2 318.8,230.6 322.5,230.6 326.2,230.2 331.2,230.6 335.0,233.1 338.1,236.2 341.2,239.8 343.8,241.2 348.8,241.0 353.8,239.8 358.8,238.1 363.8,236.2 366.9,233.8 368.1,231.9"/>
<polyline points="323.5,217.8 323.5,220.0 324.0,223.8 323.1,227.5 322.2,230.0 321.9,232.5 323.8,235.0 326.2,237.5 328.8,240.6 331.2,243.8 332.5,246.2 333.1,248.8"/>
<polyline points="388.5,232.8 389.0,236.2 390.6,240.0 391.9,244.4 395.0,247.5 400.0,248.1 406.5,248.1"/>
<polyline points="407.5,231.5 407.8,237.5 407.5,243.8 406.5,248.1"/>
<polyline points="406.5,248.1 408.1,251.2 410.6,255.0 413.8,259.4 416.2,263.8 417.5,268.1 416.9,272.5 415.0,277.5 413.1,282.5 411.9,287.5 410.6,293.8 409.8,300.0"/>
<polyline points="409.8,300.0 410.2,305.0 411.5,310.0 413.1,315.0 413.8,320.0 414.4,325.0 416.2,330.0"/>
<polyline points="538.8,251.9 538.8,256.2 539.0,262.5 539.4,270.0 539.8,277.5 540.0,285.0 540.2,292.5 540.6,300.0 540.0,305.0 538.8,310.0 537.5,315.0"/>
<polyline points="589.8,260.6 589.4,265.0 589.8,270.0 591.2,275.0 593.1,280.0 595.0,285.0 596.9,290.0 598.8,295.0 599.8,301.2"/>
<polyline points="600.0,303.0 600.6,307.5 601.5,315.0 602.6,320.0"/>
<polyline points="602.2,265.6 602.5,268.8 603.8,273.8 605.6,278.8 608.1,283.8 610.6,288.8 613.1,293.8 616.2,298.1 619.4,301.9 622.8,305.0 626.9,306.9 629.8,308.5"/>
<polyline points="645.0,283.8 645.0,286.9 644.0,290.6 642.2,294.4 640.0,297.5 636.9,300.6 634.0,303.8 631.9,306.2 629.8,308.8"/>
<polyline points="629.8,308.8 629.4,311.9 630.6,315.6 632.5,319.4 632.7,320.0"/>
<polyline points="643.9,320.0 645.0,318.1 646.9,315.0 649.4,313.1 652.5,311.9 655.0,312.5 658.1,312.2 661.2,311.5 665.0,311.0 668.1,309.8 671.2,308.8 672.2,308.1"/>
<polyline points="142.2,330.0 144.4,330.6 146.9,332.5 149.4,334.4 153.8,335.6 156.9,336.2 159.4,338.8 163.1,340.6 166.9,342.2 169.4,343.1 171.0,345.0 171.5,348.8 171.2,353.8 171.0,359.4"/>
<polyline points="167.8,330.0 167.8,330.0 168.1,336.2 168.5,341.2 169.4,343.1"/>
<polyline points="180.4,330.0 180.6,332.5 181.2,338.8 181.9,345.0 182.2,350.0 182.5,354.4"/>
<polyline points="201.0,352.2 201.9,348.8 203.1,345.0 205.0,341.2 208.1,337.5 211.2,333.8 215.0,330.6 215.9,330.0"/>
<polyline points="233.1,352.8 233.1,350.0 233.8,346.2 235.6,342.5 238.1,340.0 241.2,338.8 245.0,338.5"/>
<polyline points="243.8,377.2 244.5,377.2 244.5,378.2 243.8,378.2 243.8,377.2"/>
<polyline points="245.0,337.5 248.8,337.2 252.5,336.0 255.0,333.1 256.6,330.0"/>
<polyline points="279.1,330.0 280.6,331.9 283.1,335.0 285.0,338.1 286.5,341.2 286.2,345.0 284.8,347.5 284.0,351.2 283.1,355.6 284.4,358.1 285.6,361.2 288.1,362.8"/>
<polyline points="288.1,362.8 290.6,361.2 291.9,358.8 294.4,356.9 296.2,355.0 295.6,351.9 295.6,350.0 298.1,348.1 300.6,346.2 302.5,343.8 303.1,340.0 303.5,336.2 302.8,334.4 301.2,331.9 300.6,330.0"/>
<polyline points="302.8,334.4 306.2,335.0 310.0,335.6 312.5,336.0 313.5,338.8 314.0,342.5 315.6,346.9 317.5,351.2 318.8,355.6 320.0,360.0 322.5,363.1 325.0,366.2 326.9,369.4 328.1,372.5 331.2,375.0 333.8,378.1 335.6,381.9 337.2,385.6 338.1,390.0 338.5,396.2"/>
<polyline points="288.1,362.8 290.6,366.2 293.1,370.0 295.0,373.8 296.9,377.5 298.8,380.6 301.2,383.1 302.2,386.2 302.5,391.2 301.5,395.0 300.6,400.0 299.8,403.8 298.1,406.2 296.2,408.8 294.4,411.9 293.1,415.6 292.2,420.0"/>
<polyline points="325.2,330.0 326.9,332.5 330.0,336.2 333.8,339.4 337.5,341.9 341.9,344.4 346.2,346.2 351.2,345.6 356.2,344.0 361.2,341.9 365.6,339.4 370.0,337.5"/>
<polyline points="315.6,382.5 316.2,381.2 317.8,381.5 319.4,384.4 321.2,387.5 323.1,390.0 323.8,395.0 326.2,394.8 330.0,395.6 331.9,396.9 334.4,396.2 338.5,396.2 340.0,398.8 341.9,401.2 344.4,403.1 345.6,406.2 347.5,409.0 348.8,409.4"/>
<polyline points="315.6,382.5 316.0,386.2 317.2,390.0 318.5,393.8 318.1,398.1 315.0,399.0 313.1,401.2 310.0,403.5 307.2,405.6 306.5,408.8 306.9,412.5 306.2,415.6 303.8,416.2 300.0,416.2 296.9,416.9 294.4,418.8 293.8,420.0"/>
<polyline points="348.8,409.4 351.2,405.0 353.8,401.2 356.9,398.1 359.4,395.0 361.2,393.5 363.8,394.0 366.9,395.6 370.0,396.0"/>
<polyline points="348.8,409.4 346.9,412.5 345.6,416.2 345.2,420.0"/>
<polyline points="370.0,336.9 373.1,333.8 376.2,331.0 378.8,329.4 381.2,330.2 385.0,332.2 388.8,332.2 392.5,330.2 396.2,329.4 400.0,330.0 403.8,331.0 407.5,331.9 411.9,332.5 416.9,332.5"/>
<polyline points="416.2,330.2 416.5,331.2 417.2,333.8 418.8,336.2 421.9,336.9 425.0,336.2 427.2,336.9 428.8,339.4 430.6,341.9 430.2,345.6 430.0,348.8 431.5,350.6 429.4,352.8 427.5,355.0 425.6,357.5"/>
<polyline points="425.0,357.8 423.1,354.4 420.0,352.2 416.2,351.0 412.5,349.8 409.4,348.5 406.9,349.0 403.8,350.6 400.6,352.8 399.0,355.6 398.5,360.0 398.1,366.2 397.8,372.5 398.8,377.5 399.8,381.2 400.2,386.2 400.2,392.5 399.8,395.0 398.5,398.1 397.8,401.9 397.8,407.5 398.5,413.8 399.4,420.0"/>
<polyline points="425.0,357.8 426.0,361.2 426.2,364.4 425.6,367.5 426.9,370.0 429.4,372.2 431.9,374.0 433.5,376.9 435.0,379.0 438.1,380.0 441.9,381.0 445.0,381.9 446.2,385.0 446.9,388.1 448.8,391.9 452.5,392.5 455.6,392.5 458.1,394.4 461.2,396.2 463.1,399.4 464.4,402.2 467.5,404.0 471.2,406.0 475.6,407.2 480.0,408.1 485.0,408.1 488.8,407.5 491.9,408.5 495.0,410.0"/>
<polyline points="437.5,378.5 441.9,378.1 444.4,376.9 445.6,374.4 446.0,372.8 448.1,373.8 450.6,372.8 452.5,370.0 454.0,366.9 455.6,363.1 458.1,360.6 461.2,358.1 463.1,355.6 466.2,353.5 470.0,351.9 473.1,351.2 476.9,352.2 480.6,354.4 484.4,356.9 488.1,359.4 491.9,361.9 495.0,362.5"/>
<polyline points="370.0,395.6 373.1,394.4 376.2,391.2 378.8,388.1 380.2,385.6 381.9,385.6 383.1,388.1 385.6,391.2 388.8,394.4 392.5,394.8 396.2,393.8 400.0,392.8"/>
<polyline points="495.0,362.5 500.0,361.9 505.0,361.0 510.6,360.2 516.2,360.0 521.2,359.8 525.6,359.0 529.4,357.5 533.1,355.6 536.9,354.0 538.8,353.1"/>
<polyline points="536.5,320.0 537.2,323.8 538.1,328.8 538.8,333.8 539.4,338.8 539.5,343.8 539.4,348.8 538.8,353.1"/>
<polyline points="538.8,353.1 542.5,352.5 546.2,352.8 550.0,353.5 554.4,353.1 558.8,353.5 563.1,353.5 566.9,351.9 570.0,352.2 573.8,353.1 575.6,351.2 577.5,349.0 580.0,350.0 583.1,351.2 586.9,350.6 590.0,349.0 592.5,346.2 595.0,344.0 598.8,342.2 602.5,340.0 605.6,337.5 608.1,334.8 611.2,332.8 614.4,332.2 617.5,331.0 620.0,329.8"/>
<polyline points="602.5,320.0 602.8,322.5 604.0,326.2 605.0,330.6 605.6,335.0 605.6,337.5"/>
<polyline points="516.2,360.0 517.2,363.1 518.8,366.5 521.2,368.5 525.0,370.0 527.2,373.1 529.8,376.2 531.9,378.5 535.0,380.2 537.5,382.5 538.5,385.6 538.1,388.8 536.0,391.5 535.6,393.8 537.5,396.9 538.8,400.0 541.9,402.2 546.2,403.5 550.0,405.0 553.8,406.5"/>
<polyline points="553.8,406.5 557.5,407.2 561.2,408.8 564.4,408.1 567.5,406.5 570.0,406.2 573.1,408.5 575.0,411.9 578.1,413.1 581.9,414.4 584.4,416.9 586.2,418.8 587.5,420.0"/>
<polyline points="553.8,406.5 553.1,410.0 554.4,413.1 555.6,415.6 556.9,417.5 557.5,420.0"/>
<polyline points="556.9,416.9 552.5,416.9 548.8,417.5 548.5,420.0"/>
<polyline points="586.2,418.1 590.0,416.9 593.8,415.0 596.2,413.1 598.1,410.0 600.0,406.9 603.1,405.0 606.9,404.8 610.6,406.2 615.0,405.6 620.0,404.8"/>
<polyline points="495.0,410.2 498.8,411.9 501.9,413.8 503.5,416.9 504.4,420.0"/>
<polyline points="515.0,420.0 515.8,418.5 517.2,417.9 518.8,418.8 519.4,420.0"/>
<polyline points="620.0,329.4 623.8,329.8 626.9,331.9 629.4,332.5 632.5,330.6 634.4,326.9 633.8,323.8 632.5,320.0"/>
<polyline points="634.4,326.0 638.1,325.0 641.9,323.1 645.0,320.0"/>
<polyline points="620.0,331.9 622.5,333.1 624.4,335.0 625.6,338.8 626.2,342.5 628.1,345.6 630.6,348.1 633.1,350.6 632.5,353.8 633.1,356.9 635.0,360.0 636.9,363.8 638.8,366.9 640.6,370.0 641.9,373.1 643.1,375.6 645.6,373.8 648.1,372.5 650.0,374.4 651.9,376.9 653.8,380.0 655.6,383.1 657.5,386.2 658.8,390.0 660.0,393.8 661.0,397.5 661.9,401.2 663.8,404.4 666.2,406.2 668.8,406.9 669.4,409.4 668.1,412.5 670.0,415.0 672.5,417.5 675.0,420.0"/>
<polyline points="681.9,326.2 680.0,328.1 678.5,331.2 677.5,335.0 676.9,340.0 676.2,345.0 675.6,350.0 676.9,353.8 678.8,357.5 681.2,361.2 683.1,364.4 685.0,368.1 686.9,371.9 688.5,375.6 689.0,378.8 689.4,381.9"/>
<polyline points="691.9,325.6 692.2,330.0 691.9,335.0 690.6,340.0 690.0,345.0 691.0,349.4 692.5,352.5 693.1,355.6 691.9,358.8 690.0,361.9 690.6,365.0 692.5,368.1 692.2,371.2 690.6,374.4 689.0,376.9 688.5,379.4 689.4,381.9"/>
<polyline points="689.4,381.9 691.9,381.2 695.0,380.6 696.9,378.8 698.1,375.0 700.0,371.9 701.9,368.8 703.8,366.2 704.8,364.4 703.5,362.5 701.9,360.0 700.0,356.9 698.5,353.8 700.0,350.6 701.9,347.5 704.4,345.0 707.5,343.1 710.0,340.6 713.1,338.8 718.8,338.8 722.8,340.0"/>
<polyline points="689.4,381.9 690.6,385.0 692.5,388.1 694.0,391.2 695.0,395.0 696.2,398.1 698.1,401.2 699.4,404.4 700.0,406.9"/>
<polyline points="700.0,406.9 697.5,408.8 695.0,411.2 694.0,414.4 693.1,417.5 691.9,420.0"/>
<polyline points="700.0,406.9 702.5,408.8 705.0,410.0 708.1,410.2"/>
<polyline points="726.9,344.4 727.2,347.5 726.2,351.2 725.0,354.4 723.5,357.5 721.9,360.6 720.6,364.4 720.0,368.1 717.5,370.0 715.0,372.5 713.1,375.6 711.9,378.8 710.0,381.9 708.5,385.0 708.1,388.8 708.8,392.5 710.6,395.0 713.1,396.9 716.2,398.5 718.1,400.6 719.4,403.1 722.5,404.4 726.2,404.0 729.4,402.5 732.5,404.0 735.0,406.2 736.9,408.1"/>
<polyline points="741.9,345.0 742.2,348.8 740.6,352.5 739.4,356.2 740.0,360.0 741.2,363.8 741.0,367.5 740.2,371.2 739.8,375.0 739.4,378.8 738.8,382.5 740.0,385.0 741.9,387.5 743.1,390.6 742.8,395.0 741.5,398.8 740.6,401.9 738.8,405.0 736.9,408.1"/>
<polyline points="736.9,408.1 738.1,411.2 740.0,414.4 742.5,417.5 744.4,420.0"/>
<polyline points="620.0,404.8 623.1,404.4 626.2,404.0 630.0,403.1 633.8,402.5 637.5,403.1 640.0,404.8 642.5,406.9 645.0,408.8 648.1,409.8 651.9,410.2 655.6,410.0 658.8,409.0 661.2,409.4 663.8,411.2 666.2,413.1 668.1,412.5"/>
<polyline points="626.2,404.0 625.6,407.5 625.6,412.5 626.5,416.2 627.5,420.0"/>
<polyline points="656.2,420.0 655.6,416.9 656.2,413.8 658.8,412.5 661.9,412.2 664.4,413.1 666.9,415.0 670.0,416.9 672.5,418.8 673.8,420.0"/>
<polyline points="678.1,420.0 677.8,416.2 678.5,412.5 680.0,411.0 682.5,411.9 685.6,412.8 688.1,413.1 690.0,415.0 691.9,417.5"/>
<polyline points="708.1,410.2 707.5,412.5 708.8,415.0 710.6,417.5 712.5,420.0"/>
<polyline points="708.1,410.2 711.2,408.8 714.4,406.9 716.9,405.0 718.1,402.5 718.8,400.6"/>
<polyline points="755.6,356.2 756.0,360.0 756.2,363.1 758.8,365.6 761.2,368.1 763.8,370.6 766.2,373.1 767.5,375.6 766.9,379.4 766.5,383.8 766.2,388.1 765.0,392.5 762.5,395.0 760.0,396.5 757.5,399.4 756.2,403.1 754.8,407.5 753.1,410.6 752.5,415.0 752.2,420.0"/>
<polyline points="781.2,354.4 781.9,357.5 783.8,360.6 785.6,363.8 786.5,368.1 786.9,373.1 790.6,374.0 791.5,377.5 794.4,378.5 797.5,379.8 800.0,381.2 800.6,384.4 802.5,386.9 806.2,387.5"/>
<polyline points="806.9,366.5 809.4,368.8 811.2,371.2 811.9,374.4 811.0,378.1 809.8,381.9 808.1,385.0 806.2,387.5 806.9,391.2 808.8,394.4 810.6,397.5 812.5,400.6 814.4,404.4 815.6,408.1 816.9,412.5 818.1,416.2 820.0,420.0"/>
<polyline points="850.0,408.8 849.4,411.9 847.5,414.4 844.4,415.6 840.6,416.9 836.9,418.1 834.4,420.0"/>
<polyline points="289.4,428.8 289.8,425.6 290.6,422.5 292.2,420.0"/>
<polyline points="311.2,455.6 316.2,455.6 322.5,455.6 327.5,455.6 330.6,456.9 332.5,460.0 333.5,464.4 334.4,469.4 336.0,473.1 338.8,475.6 341.9,478.1 345.0,480.6 348.8,481.5 353.8,481.9 360.0,481.9 365.0,482.1 368.1,482.1"/>
<polyline points="345.0,420.0 347.5,421.9 349.4,425.0 348.8,428.8 348.8,431.9 350.6,435.0 353.1,438.8 355.0,441.9 356.9,445.6 358.5,449.4 357.8,453.1 358.5,457.5 360.0,461.9 360.6,466.9 362.5,470.6 364.4,475.0 366.2,478.8 368.1,482.1 370.0,483.8"/>
<polyline points="400.2,420.0 401.0,425.0 401.9,430.0 402.8,435.0 404.8,438.8 406.5,441.9 407.2,445.6 409.4,448.1 411.2,450.6 411.9,453.8 411.5,457.5 411.9,461.2 413.8,464.4 415.6,467.5 416.5,471.2"/>
<polyline points="416.5,471.2 415.0,475.0 413.1,478.1 411.9,481.9 411.2,485.6 410.0,489.4 407.5,492.5 405.0,495.0 402.5,497.5 401.0,500.0 400.0,502.5"/>
<polyline points="416.5,471.2 422.5,471.0 428.8,471.0 433.1,471.5 436.2,472.8 438.8,474.4 443.8,475.0 448.8,476.2 453.8,477.8 457.5,477.8 462.5,476.9 467.5,476.2 471.0,476.5 473.1,479.4 474.8,482.5 476.0,487.5 476.5,492.5 477.2,497.5 476.9,501.9 475.6,505.6 473.8,508.1 471.9,510.0"/>
<polyline points="410.0,453.5 407.5,453.5 404.4,453.8 400.6,455.2 396.9,457.2 394.8,460.0 393.5,463.8 392.8,468.1 392.2,472.5 391.0,476.2 388.8,479.0 387.5,481.0 385.0,479.4 382.5,479.8 380.6,481.2 379.8,484.4 379.0,487.5 378.1,488.5"/>
<polyline points="370.0,483.8 373.1,484.4 376.2,485.6 378.1,488.5 376.9,491.9 375.6,496.2 375.2,500.0 375.6,503.1"/>
<polyline points="483.1,516.0 486.2,513.5 489.4,511.0 491.9,509.4 495.0,509.0"/>
<polyline points="503.8,420.0 505.6,423.1 508.8,425.6 511.9,426.2 514.4,424.4 515.2,421.2 515.0,420.0"/>
<polyline points="519.4,420.0 520.0,423.8 521.9,427.5 525.0,430.6 528.1,433.1 530.6,435.6 532.5,438.1 535.0,439.4 537.5,438.5 539.4,436.2 541.0,433.8 542.5,432.5 545.0,432.5 547.5,433.8 548.8,435.0"/>
<polyline points="528.1,433.1 528.5,436.2 529.4,440.0 530.6,443.1 531.2,446.2 530.6,450.6 528.8,453.1 525.0,455.0 521.2,456.9 517.5,458.5 514.4,460.2 511.2,461.2 508.1,461.5 507.2,463.8 508.1,467.5 509.0,471.2 510.0,475.6 511.0,479.4 512.2,481.9 509.8,483.8 508.5,486.9 508.1,491.2 507.5,495.6 507.5,500.0 507.2,505.0 505.0,507.5 501.2,509.4 497.5,509.8 495.0,509.8"/>
<polyline points="548.5,420.0 549.4,423.1 550.2,427.5 550.0,431.2 548.8,435.0"/>
<polyline points="548.8,435.0 548.1,438.8 548.5,443.8 548.1,448.8 548.8,452.5 550.6,456.2 551.9,460.0 552.8,463.8 553.1,468.1 552.8,472.5 553.1,476.2 555.0,480.0 556.9,483.8 558.1,487.5 558.8,491.9"/>
<polyline points="548.8,435.0 545.6,437.5 542.5,440.0 539.4,443.1 536.9,445.6 535.6,449.4 534.8,453.8 533.5,458.8 532.5,463.8 532.2,470.0 532.5,476.2 532.5,482.5 533.5,487.5 534.8,492.5 535.2,497.5 534.8,502.5 533.8,507.5 532.5,512.5 531.2,514.4"/>
<polyline points="557.5,420.0 557.5,425.0 557.8,430.0 558.8,435.0 559.4,438.8 558.8,443.8 559.4,448.8 560.0,454.4 561.2,458.8 562.5,463.1 563.8,466.9 565.6,470.0 567.2,473.8 568.8,477.5 570.6,480.6 572.2,483.8 572.8,486.2"/>
<polyline points="587.5,420.0 588.8,423.8 590.6,427.5 591.2,430.0 588.1,431.9 586.0,434.4 585.0,438.8 584.0,443.8 583.5,448.8 584.0,453.8 584.8,458.8 585.0,463.8 585.2,470.0 585.2,476.2 585.2,482.5 585.0,484.8"/>
<polyline points="591.0,430.0 593.1,433.1 595.6,436.2 598.1,440.0 601.2,442.5 605.0,445.0 608.8,447.5 612.5,450.2 615.6,452.5 618.1,453.5 620.0,453.8"/>
<polyline points="593.8,501.0 594.8,501.2 594.8,503.5 593.8,503.2 593.8,501.0"/>
<polyline points="552.8,509.4 554.4,509.0 554.6,510.2 553.0,510.5 552.8,509.4"/>
<polyline points="555.6,516.2 556.9,516.2 556.9,518.8 555.6,518.8 555.6,516.2"/>
<polyline points="591.9,488.5 592.5,485.6 596.2,485.0 599.4,483.5 601.2,480.6 602.8,478.5 605.6,477.2 610.0,476.5 615.0,476.2 620.0,476.0"/>
<polyline points="619.2,470.6 620.0,470.6 620.0,473.1 619.2,473.1 619.2,470.6"/>
<polyline points="630.6,420.0 631.9,423.8 633.8,427.5 636.9,431.2 641.2,433.8 646.2,435.6 649.4,438.8 651.2,442.5 653.8,446.2 655.6,449.4 654.4,452.5 653.1,456.2 651.2,459.4 649.4,462.5 648.1,465.6"/>
<polyline points="657.5,420.0 658.8,423.1 657.5,427.5 657.2,432.5 657.5,437.5 658.1,442.5 659.4,445.6 661.9,446.2 663.1,448.1 661.9,450.6 660.6,454.4 658.8,456.9 655.6,458.8 652.5,460.6 650.0,463.1 648.5,466.0"/>
<polyline points="620.0,453.1 623.8,455.6 627.5,456.9 632.5,457.2 637.5,458.1 641.2,459.8 644.4,462.5 646.9,465.6 648.1,467.5 649.4,470.0 649.8,473.8 649.0,477.5 648.1,481.2 645.6,482.5 643.1,483.8 641.9,481.2 642.2,477.5 641.9,473.8 641.5,470.0 642.5,466.2 644.4,463.8"/>
<polyline points="620.0,469.4 623.8,469.8 627.5,470.6 631.9,471.9 635.0,473.8 637.5,476.2 639.8,479.4 641.5,481.9 643.1,483.8"/>
<polyline points="620.0,473.5 621.2,473.8 621.5,476.0 620.0,476.5"/>
<polyline points="662.5,451.9 663.8,453.5 664.4,455.2"/>
<polyline points="665.6,450.6 667.5,448.1 670.0,445.0 672.5,441.2 675.6,438.1 679.4,435.0 683.1,432.8 687.5,431.9 691.9,430.6 694.4,429.4 695.0,426.2 693.1,423.8 690.6,421.9 688.8,420.0"/>
<polyline points="694.4,429.4 696.0,431.9 695.6,433.8 691.2,435.0 687.5,436.5 685.6,438.8 686.9,441.9 688.8,445.0 691.2,448.1 693.8,451.2 696.2,454.4 698.8,457.5 701.2,460.6 702.8,463.8 703.5,467.2"/>
<polyline points="701.2,442.5 702.5,446.2 703.8,450.0 705.6,453.8 707.5,456.9 709.0,460.6 709.4,464.4 709.0,467.2"/>
<polyline points="701.2,442.5 703.8,440.6 706.2,440.0 706.9,436.9 709.0,434.8 711.9,436.9 714.4,438.8 715.6,436.2 715.0,433.1 716.9,430.6 718.1,428.8 716.2,426.9 714.4,425.0 713.8,422.5 714.0,420.0"/>
<polyline points="715.6,436.2 718.1,438.1 719.4,441.2 720.6,445.0 722.5,448.1 724.4,450.6 724.8,454.4 722.5,456.2 719.4,458.1 716.9,460.0 714.8,463.1 716.2,465.0 718.8,466.9 720.0,469.4 721.9,471.9"/>
<polyline points="724.4,450.6 726.9,453.1 729.4,456.2 731.9,459.4 733.5,463.1 734.4,466.9 736.2,469.4 736.9,472.5 735.6,475.6 733.1,477.5 731.9,480.0 731.9,483.1"/>
<polyline points="744.2,437.5 745.0,437.5 745.0,440.6 744.2,440.6 744.2,437.5"/>
<polyline points="751.9,420.0 752.5,425.0"/>
<polyline points="744.4,420.0 745.0,422.5 748.8,423.8 752.5,425.0 756.2,426.9 759.4,428.1 762.5,430.0 765.6,431.2 769.4,430.0 773.1,428.1 776.2,426.2 779.4,424.8 782.5,426.0 786.9,426.5 790.6,425.6 793.8,425.0 796.9,426.2 799.4,428.8 800.0,432.5 799.4,436.2 798.5,438.8"/>
<polyline points="752.5,425.0 751.9,428.8 750.6,432.5 747.5,434.4 745.6,436.9 745.6,441.2 747.5,445.0 750.0,448.1 753.1,450.0 754.4,453.1 753.1,456.9 750.6,458.1 750.6,461.9 752.5,465.0 755.6,465.6 758.8,464.4 761.2,466.2 763.1,469.4 763.8,472.5"/>
<polyline points="763.8,472.5 761.2,475.6 758.8,478.1 755.6,479.8 753.1,481.2 752.5,485.0 753.1,490.0 753.5,495.0 753.8,500.0"/>
<polyline points="763.8,472.5 767.5,473.1 770.0,475.0 771.0,478.8 772.5,482.5 775.0,485.0 778.1,487.5 781.2,486.9 785.0,485.6 788.8,484.8 793.1,484.4 795.6,486.2 798.1,489.4 799.8,493.1 801.2,496.9 801.9,499.4"/>
<polyline points="798.5,438.8 795.6,440.0 793.1,443.1 792.2,447.5 791.5,451.9 793.1,455.6 795.6,459.4 796.9,463.1 796.5,467.5 798.8,469.4 801.9,471.2 804.4,473.8 806.9,476.2 807.2,479.8 809.4,482.5 811.9,485.6 813.1,489.4 812.2,493.1 811.9,495.6"/>
<polyline points="798.5,438.8 801.2,441.9 805.0,440.6 808.8,439.4 811.9,441.2 815.0,443.8 818.8,445.0 821.9,446.2 825.0,445.0 828.8,443.8 832.5,442.8 836.0,442.2"/>
<polyline points="806.9,476.2 808.8,473.8 811.0,472.5 813.1,475.0 815.6,477.8 818.8,478.1 822.5,476.9 826.2,476.2 828.8,474.4 829.8,471.2 831.9,470.6 834.4,472.2 837.5,473.1 840.6,474.4 843.8,473.5 846.0,471.9 846.9,475.0 848.1,478.8 850.6,479.4 852.5,476.9 855.0,477.8 858.1,480.0 861.9,481.0 865.6,480.6 870.0,480.6"/>
<polyline points="819.4,420.0 821.9,423.1 825.0,426.9 828.1,431.2 831.2,435.6 834.0,439.4 836.0,442.2 838.8,445.0 841.9,447.5 845.0,450.0 848.1,452.2 851.2,454.4 854.4,455.6 857.5,453.8 860.0,452.2 863.1,452.8 865.0,455.0 866.9,456.9 870.0,457.2"/>
<polyline points="823.1,422.5 827.5,422.8 831.2,422.2 833.8,421.0 834.8,420.0"/>
<polyline points="870.0,457.8 871.9,457.8"/>
<polyline points="870.0,479.7 871.9,480.0 875.6,479.4 878.1,477.2 881.2,476.2 885.0,476.2 886.5,475.0"/>
<polyline points="530.0,540.6 528.1,540.0 530.0,543.8 532.5,544.4 536.2,544.0 541.2,543.8 545.0,544.4 548.8,545.0"/>
<polyline points="530.0,540.6 533.8,538.1 537.5,535.6 540.0,533.8 540.6,530.0 542.5,529.4"/>
<polyline points="539.0,530.0 541.2,528.8 543.1,530.2 542.5,533.1 540.6,533.8 539.0,531.9 539.0,530.0"/>
<polyline points="545.0,533.1 547.5,533.1 548.1,535.2 546.2,536.2 544.8,535.0 545.0,533.1"/>
<polyline points="540.6,533.8 541.2,538.8 542.5,542.5 543.8,545.0 542.5,548.1 544.4,548.8 546.2,546.9 548.1,548.5 550.0,547.5"/>
<polyline points="541.2,543.8 545.0,543.1 548.8,543.5 551.2,545.0 553.8,545.6 556.0,546.0"/>
<polyline points="526.2,520.0 526.2,520.0 523.1,523.8 520.0,527.5 518.1,531.2 517.5,535.0 517.2,539.4 515.6,542.5 513.8,544.0"/>
<g class="coast">
<polyline points="245.0,246.0 240.0,246.9 237.5,247.8 232.5,248.4 227.5,249.0 223.8,249.0 221.9,248.1 218.8,246.9 216.2,246.0 213.1,245.2 210.6,244.0 206.9,243.2 203.8,243.8 201.2,244.8 200.2,246.9 200.8,249.8 199.8,252.5 198.5,254.0 197.0,252.5 196.5,250.0 196.0,248.1 193.8,247.2 190.0,246.6 185.0,246.2 180.6,245.9 179.8,247.5 178.1,249.4 176.2,251.5 173.8,252.8 171.9,254.4 170.6,256.9 169.8,259.0 168.1,261.0 166.9,262.8 165.0,264.0 163.1,265.0 161.0,266.2 160.4,268.1 161.2,270.2 161.2,273.1 159.8,274.4 157.5,273.2 155.0,272.8 152.2,273.1 150.8,275.0 150.2,278.1 149.4,280.6 147.8,282.8 146.5,285.0 146.2,286.9 145.0,287.2 144.0,285.6 143.2,283.5 141.0,282.5 139.0,283.8 137.2,285.6 135.2,288.1 134.6,290.0 136.2,291.0 137.0,293.5 135.8,295.6 135.0,297.5 137.0,298.1 137.6,301.2 137.4,305.0 137.0,310.0 136.5,315.0 135.9,318.8 134.5,321.9 132.0,323.1 129.0,323.6 127.0,325.6 126.2,328.1 126.2,330.0"/>
<polyline points="245.0,246.5 248.8,246.0 251.9,244.0 253.8,245.6 255.6,246.2 257.5,248.8 260.6,248.8 263.8,247.5 267.5,248.8 271.2,249.4 273.1,250.6 275.6,250.0 277.8,251.5 278.8,249.4 277.8,247.2 275.6,246.9 273.8,245.6 272.8,244.4 274.4,242.5 276.5,241.9 277.8,243.1 279.4,243.8 280.6,241.9 281.2,238.8 280.6,235.6 280.4,231.9"/>
<polyline points="280.4,231.9 281.2,228.1 283.1,225.6 286.2,223.8 290.0,221.9 293.1,220.0 296.2,218.5 301.2,217.2 306.2,216.5 311.2,216.2 316.2,216.2 320.0,216.5 323.8,217.5 328.1,218.1 332.5,219.4 337.5,220.2 342.5,221.0 347.5,221.9 351.2,223.1 354.4,225.0 356.9,227.2 359.4,229.0 361.9,230.0 363.1,229.0 365.6,229.0 368.1,230.2 370.0,230.0"/>
<polyline points="362.5,230.0 363.8,231.5 366.2,232.0 368.1,231.2"/>
<polyline points="370.0,229.0 372.5,228.5 376.2,228.8 378.1,231.2 380.0,233.5 383.1,234.0 386.2,233.5 386.9,231.2 385.0,230.0 383.1,231.2 381.5,230.6 383.1,229.4 385.6,229.8 388.1,231.9 390.6,232.8 392.5,234.4 395.0,233.1 398.1,232.2 402.5,231.5 407.5,231.2 412.5,231.9 417.5,233.1 422.5,234.4 427.5,235.6 432.5,236.2 437.5,235.0 441.2,235.2 444.0,236.9 445.0,240.0 447.2,240.2 447.8,237.5 450.0,236.5 453.1,236.9 456.2,238.1 459.4,239.8 460.2,242.5 462.5,244.0 464.4,243.5 464.8,241.2 466.9,240.6 470.0,240.6 473.1,240.2 475.6,241.9 478.1,243.8 480.0,244.0"/>
<polyline points="480.0,244.0 480.0,244.0 483.8,243.1 488.8,242.2 492.5,241.2 495.6,238.8 498.1,240.0 502.5,241.0 507.5,242.2 512.5,243.1 517.5,244.8 521.2,245.6 524.4,247.2 526.9,249.4 528.8,250.6 531.9,251.0 534.4,252.2 537.5,251.9 540.0,251.5 543.1,252.5 545.6,254.4 548.8,257.5 552.5,260.0 556.2,262.5 560.6,264.4 564.4,266.2 566.9,267.2 568.8,265.0 571.9,264.8 575.6,264.4 578.8,263.1 582.5,262.5 586.2,261.2 589.4,260.2 591.9,261.5 595.0,261.5 598.1,262.5 599.4,265.0 600.0,266.2"/>
<polyline points="600.0,265.8 601.9,265.0 605.0,266.0 608.8,266.9 612.5,267.8 616.2,268.1 619.4,269.4 621.2,270.0 622.2,266.9 624.4,265.0 627.5,264.0 630.0,263.5 633.8,264.0 637.5,264.4 641.2,264.4 643.8,265.6 644.8,268.1 644.0,271.2 642.2,273.5 641.5,276.2 642.5,279.4 644.0,281.9 645.6,283.5 647.8,282.2 649.0,283.1 650.6,285.2 653.1,287.5 655.6,290.0 658.1,292.5 660.6,294.0 663.1,296.0 665.6,297.8 668.1,299.4 670.6,300.2 672.5,301.9 674.0,304.0 673.1,306.2 671.9,308.1 673.1,310.0 675.0,312.5 676.5,315.6 677.5,318.8 678.0,320.0"/>
<polyline points="126.5,330.0 126.9,331.9 128.1,335.0 130.0,338.1 132.5,340.0 135.6,341.2 138.8,342.8 142.5,344.8 146.2,346.5 150.0,347.8 153.8,348.1 156.9,347.2 159.4,348.1 161.9,349.0 164.0,350.0 165.0,352.5 166.2,355.0 168.1,356.9 170.0,358.1 171.0,359.4 175.0,359.4 178.1,357.5 181.2,355.6 183.8,353.8 187.5,352.8 191.2,351.9 195.0,351.0 198.1,350.2 200.0,351.2 201.0,353.1 203.1,352.8 206.2,353.1 208.8,354.0 211.2,352.8 215.0,351.9 218.8,351.5 221.9,352.2 223.8,354.4 225.0,352.8 227.5,352.2 231.2,352.5 234.4,353.8 236.9,356.0 239.4,358.1 241.2,360.6 242.5,363.8 243.8,366.9 245.0,370.0"/>
<polyline points="245.0,370.0 245.6,373.8 245.6,378.8 246.0,383.8 246.9,388.1 250.0,390.6 253.8,392.5 255.0,395.0 258.8,396.2 261.2,398.1 263.1,401.2 265.0,404.4 267.5,407.5 268.1,411.2 270.0,414.4 271.9,416.9 272.8,420.0"/>
<polyline points="677.5,320.0 677.8,321.2 680.0,324.4 681.9,326.2 686.2,325.6 691.2,325.2 696.2,325.6 699.4,326.9 701.2,329.0 703.1,330.0 705.0,327.5 707.5,326.5 710.6,327.5 713.8,328.1 716.9,329.0 718.8,331.9 720.6,335.0 721.9,338.1 722.8,340.0 726.9,344.4 732.5,343.8 737.5,344.8 741.9,345.0 745.0,345.0"/>
<polyline points="745.0,344.4 747.5,346.2 750.0,349.4 752.5,352.8 755.0,355.6 757.5,357.2 760.0,356.2 762.5,357.2 765.0,356.2 766.9,354.4 768.8,356.2 771.2,357.5 774.4,356.5 777.5,355.0 781.2,354.0 785.0,354.0 787.5,354.8 788.8,357.5 790.6,360.2 792.5,363.1 794.4,364.4 796.2,363.1 798.1,362.5 800.0,363.1 801.9,363.8 804.4,364.4 806.9,366.5 810.0,367.5 813.1,366.5 816.2,367.2 819.4,369.0 822.5,369.4 825.6,369.0 828.1,370.0 830.0,371.9 831.0,375.0 832.5,377.5 835.0,376.9 837.2,377.5 838.1,380.0 838.1,383.8 838.8,386.9 840.0,388.8 842.5,389.4 843.5,391.9 843.8,395.0 844.4,398.8 846.2,401.9 848.1,405.0 850.0,408.1 851.9,410.6 853.8,413.5 855.0,416.9 855.6,420.0"/>
<polyline points="794.4,364.4 794.8,366.9 798.1,367.2 800.0,365.0 800.0,363.1"/>
<polyline points="272.5,420.0 273.1,422.5 274.4,425.6 275.6,428.8 278.8,431.0 282.5,431.5 286.2,431.5 286.9,429.8 289.4,428.8 293.1,428.8 295.0,430.2 298.1,429.8 301.2,431.9 305.0,433.1 308.8,435.0 311.2,437.5 313.1,440.6 314.0,444.4 313.5,447.5 312.2,450.6 311.2,454.4 311.2,457.5 311.9,461.2 312.2,465.0 311.9,468.1 314.4,470.0 317.5,472.2 321.2,474.0 323.8,476.0 325.6,478.8 326.2,481.9 326.0,485.0 327.5,488.1 330.0,490.6 332.5,493.1 335.6,495.0 338.1,497.5 340.0,500.0 343.1,501.9 345.6,503.1 346.2,505.0 345.6,508.1 348.1,506.9 351.2,505.6 355.0,504.8 358.8,503.5 362.5,503.5 366.2,504.4 370.0,505.6"/>
<polyline points="370.0,505.6 373.8,504.8 377.5,503.5 382.5,502.8 387.5,502.8 391.9,503.5 395.0,503.8 400.0,502.5 403.8,501.5 407.5,501.9 411.2,502.8 414.4,505.0 417.5,507.5 420.6,510.0 423.8,512.2 427.5,512.2 431.2,510.6 435.0,508.8 438.8,506.9 442.5,505.2 447.5,503.8 452.5,503.1 457.5,503.1 462.5,503.5 465.6,505.2 468.8,507.5 471.9,510.2 473.8,512.5 477.5,514.0 481.2,515.6 484.4,517.5 486.9,519.4 488.1,520.0"/>
<polyline points="526.9,520.0 528.8,516.9 531.2,514.4 536.2,514.4 541.2,514.4 547.5,514.8 548.8,511.2 550.0,507.5 551.2,503.8 552.5,500.0 554.4,496.9 556.9,493.8 559.4,491.0 562.5,488.8 566.2,488.1 569.4,486.9 571.9,485.6 573.5,488.1 575.6,488.1 576.2,485.0 576.9,482.5 579.4,482.2 579.8,485.0 580.6,487.2 582.5,485.0 584.4,484.4 586.2,485.6 588.1,487.5 590.0,489.4 591.9,491.5 593.5,494.0 594.8,496.9 595.2,500.0 595.0,503.1 593.8,505.0 591.9,503.8 591.0,505.6 590.6,508.1 591.0,511.0 593.1,510.2 595.6,508.8 598.8,508.5 601.9,509.0 604.4,510.2 605.6,512.8 607.5,513.1 609.4,511.9 611.2,510.0 613.1,508.5 615.2,509.0 616.5,511.5 618.1,513.1 620.0,513.5"/>
<polyline points="547.5,514.8 548.1,516.9 549.4,519.4 550.6,520.0"/>
<polyline points="580.0,492.8 582.2,492.5 582.8,494.8 581.0,495.8 579.8,494.5 580.0,492.8"/>
<polyline points="585.0,498.1 588.1,497.5 589.0,500.0 589.8,502.5 588.5,504.0 586.9,502.5 585.6,500.6 585.0,498.1"/>
<polyline points="656.2,450.0 661.2,449.4 659.8,453.5 657.5,456.2 654.4,458.1 651.2,460.2 649.0,463.1 650.0,460.0 652.8,456.9 655.0,453.1 656.2,450.0"/>
<polyline points="643.1,483.8 641.9,487.5 640.6,491.9 638.8,496.2 636.9,500.6 634.8,503.8 632.5,507.5 630.0,510.0 626.2,512.2 622.5,513.8 620.0,514.4"/>
<polyline points="661.9,450.0 663.8,451.9 666.9,454.4 670.0,456.9 673.1,459.0 676.2,460.2 680.0,459.8 683.8,459.0 688.1,458.5 691.9,457.5 695.6,458.5 698.1,460.6 700.6,463.1 701.9,465.6 702.2,467.5"/>
<polyline points="659.4,472.5 660.6,470.0 663.1,467.2 666.2,468.1 670.0,469.8 673.8,471.0 677.5,471.9 680.0,470.0 681.9,468.1 685.0,468.1 686.2,470.0 685.0,472.5 683.5,475.0 680.6,475.2 678.1,473.8 675.0,472.5 671.2,471.2 667.5,470.6 663.8,470.0 661.9,471.9 659.8,473.1 659.4,472.5"/>
<polyline points="663.1,468.1 666.9,469.0 670.6,470.5 674.4,471.8 677.8,472.8 680.2,471.0 682.2,469.0 684.8,469.0"/>
<polyline points="661.2,470.6 663.8,469.0 667.2,469.8 671.0,470.9 674.8,472.1 677.9,473.5 680.8,474.5 683.1,474.0 684.4,471.9 685.5,470.0"/>
<polyline points="686.2,470.0 690.0,469.4 693.8,469.0 697.5,468.5 701.2,467.8 705.0,467.2 708.8,467.2 711.9,469.4 715.0,470.6 718.8,470.6 721.9,471.9 725.0,474.4 727.5,477.5 730.0,480.6 732.5,483.8 735.0,486.2 736.9,489.4 738.1,492.5 739.4,496.2 741.2,499.4 743.1,501.2 745.0,501.9"/>
<polyline points="745.0,501.2 748.8,500.6 753.8,500.0 757.5,500.6 761.2,500.0 763.8,501.9 765.0,505.6 766.9,508.1 770.0,509.0 773.8,507.5 776.9,505.6 778.8,503.1 782.5,501.9 787.5,500.6 792.5,499.8 797.5,499.4 801.9,499.0 806.2,498.1 810.0,496.9 813.1,495.6 816.2,496.5 820.0,498.1 823.8,500.0 827.5,501.9 831.2,503.8 833.1,505.2 835.0,504.8 836.9,502.5 838.1,500.0 837.8,496.9 838.1,494.4 840.6,492.5 843.1,491.2 845.0,490.6 844.4,493.8 843.1,496.9 842.5,500.0 844.4,501.2 847.5,501.0 850.6,499.0 853.8,496.9 856.9,495.0 860.0,494.4 863.1,493.8 865.6,492.2 868.1,491.5 870.0,491.2"/>
<polyline points="761.2,500.0 763.8,501.0 765.6,502.5 766.9,505.0 768.8,507.2 771.2,508.1 774.4,506.5 777.2,504.4 778.8,503.1"/>
<polyline points="856.2,420.0 857.5,423.1 858.8,426.2 858.1,429.4 856.9,431.9 855.6,433.1 857.5,434.4 859.4,436.9 861.2,440.0 863.1,443.1 865.6,446.2 867.5,449.4 869.4,453.1 870.0,455.0"/>
<polyline points="856.9,427.5 856.0,430.0 855.2,432.5 856.2,433.5"/>
<polyline points="870.0,454.0 870.2,454.4 873.1,455.0 872.2,457.5 872.2,461.2 871.9,465.0 873.1,468.8 874.8,471.5 876.9,472.5 881.2,472.5 885.0,472.8 886.5,475.0 886.9,478.1 889.8,479.0 890.6,481.2 890.2,484.4 888.8,486.9 886.5,486.2 885.0,484.0 882.5,485.0 880.0,486.2 876.9,487.5 874.4,489.4 871.9,491.9 870.0,492.4"/>
<polyline points="488.0,520.0 488.8,520.6 491.2,523.1 493.8,526.2 496.2,529.4 498.8,532.5 501.2,535.6 503.1,538.1 503.8,540.0 506.2,540.2 508.8,541.2 511.2,541.9 513.5,543.8 513.8,546.2 515.2,548.8 516.9,551.2 518.1,553.1 520.0,555.0 522.5,557.5 525.0,560.0 527.5,563.1 530.0,565.6 533.1,568.1 536.9,570.0 540.6,571.9 543.8,572.8 548.1,572.5 551.9,571.0 555.0,568.8 558.1,566.2 560.6,563.1 561.5,559.4 561.0,556.2 558.8,553.8 556.2,551.9 555.0,550.0 555.0,548.1 556.2,546.9 556.0,545.0 553.8,544.4 551.2,545.0 548.8,543.8 546.2,542.5 544.4,540.0 544.0,536.9 543.8,533.1 544.0,530.0 545.0,527.5 546.9,525.6 548.5,523.8 548.1,521.2 548.3,520.0"/>
<polyline points="513.5,544.4 514.8,548.8 516.5,551.9 518.1,554.4 520.0,555.2 518.1,552.2 516.2,548.8 514.8,545.6 513.5,544.4"/>
<polyline points="549.4,522.8 555.0,522.8 555.6,525.0 551.2,525.2 549.4,524.0 549.4,522.8"/>
</g>
</g>
<rect x="45.0" y="183.0" width="909.0" height="435.0" fill="none" stroke="#000" stroke-width="2" shape-rendering="crispEdges"/>
<g stroke="#000" stroke-width="1" shape-rendering="crispEdges">
<line x1="45.5" y1="618.0" x2="45.5" y2="622.0"/>
<line x1="150.5" y1="618.0" x2="150.5" y2="622.0"/>
<line x1="255.5" y1="618.0" x2="255.5" y2="622.0"/>
<line x1="360.5" y1="618.0" x2="360.5" y2="622.0"/>
<line x1="465.5" y1="618.0" x2="465.5" y2="622.0"/>
<line x1="569.5" y1="618.0" x2="569.5" y2="622.0"/>
<line x1="674.5" y1="618.0" x2="674.5" y2="622.0"/>
<line x1="779.5" y1="618.0" x2="779.5" y2="622.0"/>
<line x1="884.5" y1="618.0" x2="884.5" y2="622.0"/>
<line x1="41.0" y1="183.5" x2="45.0" y2="183.5"/>
<line x1="41.0" y1="227.5" x2="45.0" y2="227.5"/>
<line x1="41.0" y1="270.5" x2="45.0" y2="270.5"/>
<line x1="41.0" y1="314.5" x2="45.0" y2="314.5"/>
<line x1="41.0" y1="357.5" x2="45.0" y2="357.5"/>
<line x1="41.0" y1="400.5" x2="45.0" y2="400.5"/>
<line x1="41.0" y1="444.5" x2="45.0" y2="444.5"/>
<line x1="41.0" y1="487.5" x2="45.0" y2="487.5"/>
<line x1="41.0" y1="531.5" x2="45.0" y2="531.5"/>
<line x1="41.0" y1="574.5" x2="45.0" y2="574.5"/>
<line x1="41.0" y1="618.5" x2="45.0" y2="618.5"/>
</g>
<g class="ax">
<text x="1.9" y="189.0" textLength="35.8" lengthAdjust="spacingAndGlyphs">18.6N</text>
<text x="1.9" y="232.4" textLength="35.8" lengthAdjust="spacingAndGlyphs">18.5N</text>
<text x="1.9" y="275.8" textLength="35.8" lengthAdjust="spacingAndGlyphs">18.4N</text>
<text x="1.9" y="319.2" textLength="35.8" lengthAdjust="spacingAndGlyphs">18.3N</text>
<text x="1.9" y="362.6" textLength="35.8" lengthAdjust="spacingAndGlyphs">18.2N</text>
<text x="1.9" y="406.0" textLength="35.8" lengthAdjust="spacingAndGlyphs">18.1N</text>
<text x="13.2" y="449.4" textLength="24.7" lengthAdjust="spacingAndGlyphs">18N</text>
<text x="1.9" y="492.8" textLength="35.8" lengthAdjust="spacingAndGlyphs">17.9N</text>
<text x="1.9" y="536.2" textLength="35.8" lengthAdjust="spacingAndGlyphs">17.8N</text>
<text x="1.9" y="579.6" textLength="35.8" lengthAdjust="spacingAndGlyphs">17.7N</text>
<text x="1.9" y="623.0" textLength="35.8" lengthAdjust="spacingAndGlyphs">17.6N</text>
<text x="26.5" y="635.8" textLength="38.6" lengthAdjust="spacingAndGlyphs">78.6W</text>
<text x="131.3" y="635.8" textLength="38.6" lengthAdjust="spacingAndGlyphs">78.3W</text>
<text x="241.5" y="635.8" textLength="28.2" lengthAdjust="spacingAndGlyphs">78W</text>
<text x="341.1" y="635.8" textLength="38.6" lengthAdjust="spacingAndGlyphs">77.7W</text>
<text x="445.9" y="635.8" textLength="38.6" lengthAdjust="spacingAndGlyphs">77.4W</text>
<text x="550.8" y="635.8" textLength="38.6" lengthAdjust="spacingAndGlyphs">77.1W</text>
<text x="655.6" y="635.8" textLength="38.6" lengthAdjust="spacingAndGlyphs">76.8W</text>
<text x="760.5" y="635.8" textLength="38.6" lengthAdjust="spacingAndGlyphs">76.5W</text>
<text x="865.4" y="635.8" textLength="38.6" lengthAdjust="spacingAndGlyphs">76.2W</text>
</g>
<g class="t1">
<text transform="translate(171.6,138.7) scale(0.85,1)" textLength="146.0" lengthAdjust="spacing">Caribbean</text>
<text transform="translate(309.9,138.7) scale(0.85,1)" textLength="115.4" lengthAdjust="spacing">Institute</text>
<text transform="translate(425.4,138.7) scale(0.85,1)" textLength="40.2" lengthAdjust="spacing">for</text>
<text transform="translate(471.5,138.7) scale(0.85,1)" textLength="173.0" lengthAdjust="spacing">Meteorology</text>
<text transform="translate(634.9,138.7) scale(0.85,1)" textLength="52.7" lengthAdjust="spacing">and</text>
<text transform="translate(694.0,138.7) scale(0.85,1)" textLength="140.7" lengthAdjust="spacing">Hydrology</text>
</g><g class="t2">
<text transform="translate(53.5,165.2) scale(0.83,1)" textLength="243.0" lengthAdjust="spacing">Disaggregated</text>
<text transform="translate(271.0,165.2) scale(0.83,1)" textLength="318.8" lengthAdjust="spacing">precipitation(mm)</text>
<text class="u" x="544.4" y="165.2" textLength="55.9" lengthAdjust="spacingAndGlyphs">JAM</text>
<text transform="translate(606.6,165.2) scale(0.88,1)" textLength="78.3" lengthAdjust="spacing">Valid</text>
<text class="u" x="692.8" y="165.2" textLength="53.6" lengthAdjust="spacingAndGlyphs">03Z</text>
<text class="u" x="763.3" y="165.2" textLength="92.6" lengthAdjust="spacingAndGlyphs">27/10</text>
<text class="u" x="874.0" y="165.2" textLength="71.1" lengthAdjust="spacingAndGlyphs">2014</text>
</g>
<g stroke="#000" stroke-width="1">
<polygon points="144.3,709.3 100.5,718.8 144.3,728.3" fill="#fff"/>
<rect x="144.3" y="709.3" width="44.5" height="19.0" fill="#7d7d7d"/>
<rect x="188.8" y="709.3" width="44.5" height="19.0" fill="#a000c8"/>
<rect x="233.2" y="709.3" width="44.5" height="19.0" fill="#8200dc"/>
<rect x="277.7" y="709.3" width="44.5" height="19.0" fill="#5028fa"/>
<rect x="322.2" y="709.3" width="44.5" height="19.0" fill="#1e3cff"/>
<rect x="366.6" y="709.3" width="44.5" height="19.0" fill="#00a0ff"/>
<rect x="411.1" y="709.3" width="44.5" height="19.0" fill="#00c8c8"/>
<rect x="455.6" y="709.3" width="44.5" height="19.0" fill="#00d28c"/>
<rect x="500.1" y="709.3" width="44.5" height="19.0" fill="#00dc00"/>
<rect x="544.5" y="709.3" width="44.5" height="19.0" fill="#a0e632"/>
<rect x="589.0" y="709.3" width="44.5" height="19.0" fill="#e6dc32"/>
<rect x="633.5" y="709.3" width="44.5" height="19.0" fill="#e6af2d"/>
<rect x="677.9" y="709.3" width="44.5" height="19.0" fill="#f08228"/>
<rect x="722.4" y="709.3" width="44.5" height="19.0" fill="#ffa0a0"/>
<rect x="766.9" y="709.3" width="44.5" height="19.0" fill="#ff0000"/>
<rect x="811.3" y="709.3" width="44.5" height="19.0" fill="#fa3c3c"/>
<polygon points="855.8,709.3 900.5,718.8 855.8,728.3" fill="#f00082"/>
</g><g class="cb">
<text x="130.9" y="745.4" textLength="27.6" lengthAdjust="spacingAndGlyphs">0.5</text>
<text x="184.9" y="745.4" textLength="8.5" lengthAdjust="spacingAndGlyphs">1</text>
<text x="228.0" y="745.4" textLength="11.1" lengthAdjust="spacingAndGlyphs">2</text>
<text x="271.7" y="745.4" textLength="12.2" lengthAdjust="spacingAndGlyphs">5</text>
<text x="310.5" y="745.4" textLength="22.8" lengthAdjust="spacingAndGlyphs">10</text>
<text x="355.1" y="745.4" textLength="22.9" lengthAdjust="spacingAndGlyphs">15</text>
<text x="400.8" y="745.4" textLength="21.1" lengthAdjust="spacingAndGlyphs">20</text>
<text x="445.2" y="745.4" textLength="21.4" lengthAdjust="spacingAndGlyphs">25</text>
<text x="489.6" y="745.4" textLength="21.2" lengthAdjust="spacingAndGlyphs">30</text>
<text x="533.7" y="745.4" textLength="22.1" lengthAdjust="spacingAndGlyphs">35</text>
<text x="578.8" y="745.4" textLength="20.6" lengthAdjust="spacingAndGlyphs">40</text>
<text x="622.5" y="745.4" textLength="22.1" lengthAdjust="spacingAndGlyphs">50</text>
<text x="667.0" y="745.4" textLength="21.7" lengthAdjust="spacingAndGlyphs">60</text>
<text x="711.4" y="745.4" textLength="21.5" lengthAdjust="spacingAndGlyphs">70</text>
<text x="756.0" y="745.4" textLength="21.7" lengthAdjust="spacingAndGlyphs">80</text>
<text x="800.5" y="745.4" textLength="21.7" lengthAdjust="spacingAndGlyphs">90</text>
<text x="840.0" y="745.4" textLength="31.5" lengthAdjust="spacingAndGlyphs">100</text>
</g>
</svg></body></html>
